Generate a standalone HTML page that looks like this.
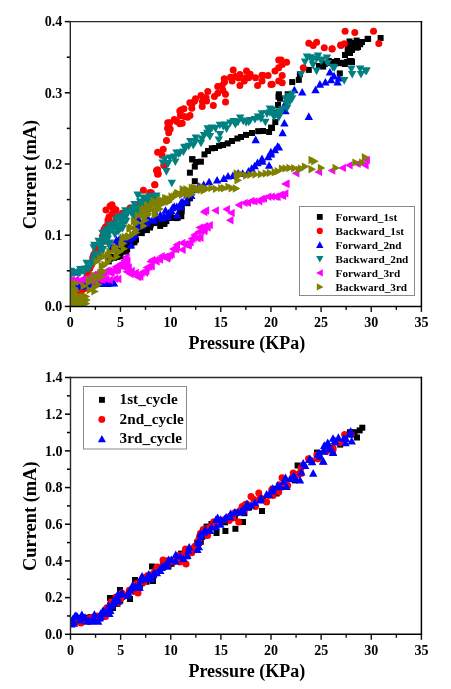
<!DOCTYPE html>
<html><head><meta charset="utf-8"><style>html,body{margin:0;padding:0;background:#fff;width:451px;height:689px;overflow:hidden}svg{display:block} text{-webkit-font-smoothing:antialiased} .t{will-change:transform}</style></head>
<body><svg width="451" height="689" viewBox="0 0 451 689">
<rect width="451" height="689" fill="#fff"/>
<filter id="nf"><feOffset dx="0" dy="0"/></filter><g filter="url(#nf)">
<clipPath id="c1"><rect x="70.30" y="21.60" width="351.10" height="284.80"/></clipPath>
<g clip-path="url(#c1)">
<rect x="101.8" y="280.3" width="6.0" height="6.0" fill="#000"/>
<rect x="105.0" y="281.0" width="6.0" height="6.0" fill="#000"/>
<rect x="105.8" y="258.4" width="6.0" height="6.0" fill="#000"/>
<rect x="107.5" y="255.5" width="6.0" height="6.0" fill="#000"/>
<rect x="109.2" y="253.8" width="6.0" height="6.0" fill="#000"/>
<rect x="111.2" y="254.8" width="6.0" height="6.0" fill="#000"/>
<rect x="114.4" y="253.9" width="6.0" height="6.0" fill="#000"/>
<rect x="114.9" y="253.1" width="6.0" height="6.0" fill="#000"/>
<rect x="117.6" y="253.3" width="6.0" height="6.0" fill="#000"/>
<rect x="118.2" y="248.0" width="6.0" height="6.0" fill="#000"/>
<rect x="118.6" y="247.3" width="6.0" height="6.0" fill="#000"/>
<rect x="123.2" y="248.7" width="6.0" height="6.0" fill="#000"/>
<rect x="124.2" y="246.2" width="6.0" height="6.0" fill="#000"/>
<rect x="122.4" y="241.6" width="6.0" height="6.0" fill="#000"/>
<rect x="127.4" y="242.5" width="6.0" height="6.0" fill="#000"/>
<rect x="128.4" y="240.4" width="6.0" height="6.0" fill="#000"/>
<rect x="131.3" y="239.3" width="6.0" height="6.0" fill="#000"/>
<rect x="131.4" y="238.0" width="6.0" height="6.0" fill="#000"/>
<rect x="133.0" y="236.7" width="6.0" height="6.0" fill="#000"/>
<rect x="131.4" y="232.3" width="6.0" height="6.0" fill="#000"/>
<rect x="133.0" y="229.0" width="6.0" height="6.0" fill="#000"/>
<rect x="137.0" y="230.0" width="6.0" height="6.0" fill="#000"/>
<rect x="138.8" y="230.1" width="6.0" height="6.0" fill="#000"/>
<rect x="140.5" y="227.0" width="6.0" height="6.0" fill="#000"/>
<rect x="143.9" y="227.1" width="6.0" height="6.0" fill="#000"/>
<rect x="143.6" y="225.4" width="6.0" height="6.0" fill="#000"/>
<rect x="147.1" y="224.5" width="6.0" height="6.0" fill="#000"/>
<rect x="147.7" y="221.7" width="6.0" height="6.0" fill="#000"/>
<rect x="149.8" y="218.7" width="6.0" height="6.0" fill="#000"/>
<rect x="151.3" y="220.1" width="6.0" height="6.0" fill="#000"/>
<rect x="153.9" y="219.0" width="6.0" height="6.0" fill="#000"/>
<rect x="157.2" y="222.9" width="6.0" height="6.0" fill="#000"/>
<rect x="159.9" y="220.9" width="6.0" height="6.0" fill="#000"/>
<rect x="161.5" y="220.8" width="6.0" height="6.0" fill="#000"/>
<rect x="163.4" y="218.1" width="6.0" height="6.0" fill="#000"/>
<rect x="163.5" y="214.7" width="6.0" height="6.0" fill="#000"/>
<rect x="166.4" y="215.0" width="6.0" height="6.0" fill="#000"/>
<rect x="167.5" y="214.0" width="6.0" height="6.0" fill="#000"/>
<rect x="170.8" y="214.8" width="6.0" height="6.0" fill="#000"/>
<rect x="173.5" y="215.1" width="6.0" height="6.0" fill="#000"/>
<rect x="174.9" y="214.5" width="6.0" height="6.0" fill="#000"/>
<rect x="178.3" y="213.2" width="6.0" height="6.0" fill="#000"/>
<rect x="177.0" y="208.8" width="6.0" height="6.0" fill="#000"/>
<rect x="178.7" y="208.2" width="6.0" height="6.0" fill="#000"/>
<rect x="178.4" y="205.5" width="6.0" height="6.0" fill="#000"/>
<rect x="178.7" y="203.0" width="6.0" height="6.0" fill="#000"/>
<rect x="184.4" y="200.2" width="6.0" height="6.0" fill="#000"/>
<rect x="186.9" y="195.3" width="6.0" height="6.0" fill="#000"/>
<rect x="189.0" y="187.0" width="6.0" height="6.0" fill="#000"/>
<rect x="191.8" y="178.2" width="6.0" height="6.0" fill="#000"/>
<rect x="186.9" y="169.7" width="6.0" height="6.0" fill="#000"/>
<rect x="191.8" y="163.6" width="6.0" height="6.0" fill="#000"/>
<rect x="189.3" y="156.3" width="6.0" height="6.0" fill="#000"/>
<rect x="189.3" y="156.3" width="6.0" height="6.0" fill="#000"/>
<rect x="197.9" y="158.7" width="6.0" height="6.0" fill="#000"/>
<rect x="201.5" y="151.4" width="6.0" height="6.0" fill="#000"/>
<rect x="208.8" y="145.3" width="6.0" height="6.0" fill="#000"/>
<rect x="216.1" y="142.9" width="6.0" height="6.0" fill="#000"/>
<rect x="224.7" y="140.4" width="6.0" height="6.0" fill="#000"/>
<rect x="234.4" y="135.5" width="6.0" height="6.0" fill="#000"/>
<rect x="243.0" y="131.9" width="6.0" height="6.0" fill="#000"/>
<rect x="255.2" y="128.2" width="6.0" height="6.0" fill="#000"/>
<rect x="266.1" y="129.0" width="6.0" height="6.0" fill="#000"/>
<rect x="272.3" y="119.1" width="6.0" height="6.0" fill="#000"/>
<rect x="273.0" y="110.0" width="6.0" height="6.0" fill="#000"/>
<rect x="275.0" y="102.0" width="6.0" height="6.0" fill="#000"/>
<rect x="275.7" y="93.6" width="6.0" height="6.0" fill="#000"/>
<rect x="193.0" y="159.0" width="6.0" height="6.0" fill="#000"/>
<rect x="205.0" y="148.0" width="6.0" height="6.0" fill="#000"/>
<rect x="212.0" y="145.0" width="6.0" height="6.0" fill="#000"/>
<rect x="220.0" y="142.0" width="6.0" height="6.0" fill="#000"/>
<rect x="229.0" y="138.0" width="6.0" height="6.0" fill="#000"/>
<rect x="238.0" y="134.0" width="6.0" height="6.0" fill="#000"/>
<rect x="249.0" y="130.0" width="6.0" height="6.0" fill="#000"/>
<rect x="260.0" y="128.0" width="6.0" height="6.0" fill="#000"/>
<rect x="269.0" y="125.0" width="6.0" height="6.0" fill="#000"/>
<rect x="275.7" y="93.6" width="6.0" height="6.0" fill="#000"/>
<rect x="275.9" y="91.3" width="6.0" height="6.0" fill="#000"/>
<rect x="277.0" y="95.7" width="6.0" height="6.0" fill="#000"/>
<rect x="284.7" y="91.3" width="6.0" height="6.0" fill="#000"/>
<rect x="289.2" y="79.1" width="6.0" height="6.0" fill="#000"/>
<rect x="295.8" y="76.9" width="6.0" height="6.0" fill="#000"/>
<rect x="296.9" y="71.3" width="6.0" height="6.0" fill="#000"/>
<rect x="305.8" y="66.9" width="6.0" height="6.0" fill="#000"/>
<rect x="320.2" y="63.6" width="6.0" height="6.0" fill="#000"/>
<rect x="325.8" y="58.0" width="6.0" height="6.0" fill="#000"/>
<rect x="333.5" y="60.3" width="6.0" height="6.0" fill="#000"/>
<rect x="340.2" y="60.3" width="6.0" height="6.0" fill="#000"/>
<rect x="346.8" y="58.0" width="6.0" height="6.0" fill="#000"/>
<rect x="330.5" y="58.9" width="6.0" height="6.0" fill="#000"/>
<rect x="337.6" y="59.8" width="6.0" height="6.0" fill="#000"/>
<rect x="343.9" y="58.9" width="6.0" height="6.0" fill="#000"/>
<rect x="348.3" y="58.0" width="6.0" height="6.0" fill="#000"/>
<rect x="336.8" y="70.4" width="6.0" height="6.0" fill="#000"/>
<rect x="344.7" y="47.4" width="6.0" height="6.0" fill="#000"/>
<rect x="346.5" y="38.5" width="6.0" height="6.0" fill="#000"/>
<rect x="348.3" y="42.9" width="6.0" height="6.0" fill="#000"/>
<rect x="353.6" y="37.6" width="6.0" height="6.0" fill="#000"/>
<rect x="353.6" y="44.7" width="6.0" height="6.0" fill="#000"/>
<rect x="357.2" y="41.2" width="6.0" height="6.0" fill="#000"/>
<rect x="365.1" y="35.9" width="6.0" height="6.0" fill="#000"/>
<rect x="377.6" y="35.0" width="6.0" height="6.0" fill="#000"/>
<rect x="364.6" y="35.9" width="6.0" height="6.0" fill="#000"/>
<rect x="268.1" y="124.6" width="6.0" height="6.0" fill="#000"/>
<rect x="345.0" y="44.0" width="6.0" height="6.0" fill="#000"/>
<rect x="349.0" y="47.0" width="6.0" height="6.0" fill="#000"/>
<rect x="355.0" y="44.0" width="6.0" height="6.0" fill="#000"/>
<rect x="351.0" y="40.0" width="6.0" height="6.0" fill="#000"/>
<rect x="359.0" y="39.0" width="6.0" height="6.0" fill="#000"/>
<rect x="342.0" y="52.0" width="6.0" height="6.0" fill="#000"/>
<rect x="347.0" y="50.0" width="6.0" height="6.0" fill="#000"/>
<rect x="322.0" y="61.0" width="6.0" height="6.0" fill="#000"/>
<rect x="328.0" y="60.0" width="6.0" height="6.0" fill="#000"/>
<rect x="334.0" y="58.0" width="6.0" height="6.0" fill="#000"/>
<rect x="342.0" y="61.0" width="6.0" height="6.0" fill="#000"/>
<rect x="349.0" y="59.0" width="6.0" height="6.0" fill="#000"/>
<rect x="316.0" y="63.0" width="6.0" height="6.0" fill="#000"/>
<circle cx="71.2" cy="299.7" r="3.5" fill="#ff0000"/>
<circle cx="74.1" cy="298.7" r="3.5" fill="#ff0000"/>
<circle cx="78.2" cy="295.3" r="3.5" fill="#ff0000"/>
<circle cx="79.5" cy="293.2" r="3.5" fill="#ff0000"/>
<circle cx="81.7" cy="290.2" r="3.5" fill="#ff0000"/>
<circle cx="83.9" cy="288.8" r="3.5" fill="#ff0000"/>
<circle cx="84.3" cy="284.6" r="3.5" fill="#ff0000"/>
<circle cx="84.8" cy="280.6" r="3.5" fill="#ff0000"/>
<circle cx="86.5" cy="277.7" r="3.5" fill="#ff0000"/>
<circle cx="88.7" cy="274.3" r="3.5" fill="#ff0000"/>
<circle cx="87.9" cy="273.0" r="3.5" fill="#ff0000"/>
<circle cx="89.8" cy="268.5" r="3.5" fill="#ff0000"/>
<circle cx="90.7" cy="265.4" r="3.5" fill="#ff0000"/>
<circle cx="91.6" cy="264.5" r="3.5" fill="#ff0000"/>
<circle cx="93.1" cy="261.0" r="3.5" fill="#ff0000"/>
<circle cx="92.8" cy="257.5" r="3.5" fill="#ff0000"/>
<circle cx="93.5" cy="255.4" r="3.5" fill="#ff0000"/>
<circle cx="95.1" cy="252.6" r="3.5" fill="#ff0000"/>
<circle cx="96.7" cy="248.1" r="3.5" fill="#ff0000"/>
<circle cx="99.6" cy="246.3" r="3.5" fill="#ff0000"/>
<circle cx="101.7" cy="242.6" r="3.5" fill="#ff0000"/>
<circle cx="102.6" cy="239.5" r="3.5" fill="#ff0000"/>
<circle cx="102.5" cy="236.0" r="3.5" fill="#ff0000"/>
<circle cx="103.7" cy="231.9" r="3.5" fill="#ff0000"/>
<circle cx="104.1" cy="229.2" r="3.5" fill="#ff0000"/>
<circle cx="105.5" cy="226.9" r="3.5" fill="#ff0000"/>
<circle cx="107.9" cy="223.2" r="3.5" fill="#ff0000"/>
<circle cx="108.9" cy="221.1" r="3.5" fill="#ff0000"/>
<circle cx="109.0" cy="217.0" r="3.5" fill="#ff0000"/>
<circle cx="106.0" cy="210.0" r="3.5" fill="#ff0000"/>
<circle cx="110.0" cy="206.0" r="3.5" fill="#ff0000"/>
<circle cx="113.0" cy="208.0" r="3.5" fill="#ff0000"/>
<circle cx="112.0" cy="214.0" r="3.5" fill="#ff0000"/>
<circle cx="108.0" cy="220.0" r="3.5" fill="#ff0000"/>
<circle cx="115.0" cy="222.0" r="3.5" fill="#ff0000"/>
<circle cx="110.0" cy="225.0" r="3.5" fill="#ff0000"/>
<circle cx="116.0" cy="218.0" r="3.5" fill="#ff0000"/>
<circle cx="115.9" cy="209.7" r="3.5" fill="#ff0000"/>
<circle cx="122.1" cy="213.2" r="3.5" fill="#ff0000"/>
<circle cx="118.0" cy="216.0" r="3.5" fill="#ff0000"/>
<circle cx="112.0" cy="204.8" r="3.5" fill="#ff0000"/>
<circle cx="141.6" cy="211.4" r="3.5" fill="#ff0000"/>
<circle cx="130.0" cy="208.0" r="3.5" fill="#ff0000"/>
<circle cx="136.0" cy="205.0" r="3.5" fill="#ff0000"/>
<circle cx="170.2" cy="128.9" r="3.5" fill="#ff0000"/>
<circle cx="167.7" cy="122.8" r="3.5" fill="#ff0000"/>
<circle cx="176.8" cy="121.6" r="3.5" fill="#ff0000"/>
<circle cx="180.4" cy="115.8" r="3.5" fill="#ff0000"/>
<circle cx="183.9" cy="108.8" r="3.5" fill="#ff0000"/>
<circle cx="191.8" cy="108.2" r="3.5" fill="#ff0000"/>
<circle cx="194.6" cy="101.0" r="3.5" fill="#ff0000"/>
<circle cx="202.4" cy="101.5" r="3.5" fill="#ff0000"/>
<circle cx="206.0" cy="97.4" r="3.5" fill="#ff0000"/>
<circle cx="207.8" cy="91.6" r="3.5" fill="#ff0000"/>
<circle cx="217.7" cy="93.2" r="3.5" fill="#ff0000"/>
<circle cx="222.9" cy="90.3" r="3.5" fill="#ff0000"/>
<circle cx="224.5" cy="82.1" r="3.5" fill="#ff0000"/>
<circle cx="230.5" cy="77.2" r="3.5" fill="#ff0000"/>
<circle cx="238.8" cy="78.0" r="3.5" fill="#ff0000"/>
<circle cx="245.7" cy="77.7" r="3.5" fill="#ff0000"/>
<circle cx="250.2" cy="74.2" r="3.5" fill="#ff0000"/>
<circle cx="255.5" cy="77.7" r="3.5" fill="#ff0000"/>
<circle cx="262.0" cy="75.3" r="3.5" fill="#ff0000"/>
<circle cx="268.1" cy="75.6" r="3.5" fill="#ff0000"/>
<circle cx="275.0" cy="70.9" r="3.5" fill="#ff0000"/>
<circle cx="143.4" cy="190.2" r="3.5" fill="#ff0000"/>
<circle cx="151.4" cy="192.8" r="3.5" fill="#ff0000"/>
<circle cx="154.9" cy="184.8" r="3.5" fill="#ff0000"/>
<circle cx="157.6" cy="169.8" r="3.5" fill="#ff0000"/>
<circle cx="157.6" cy="174.2" r="3.5" fill="#ff0000"/>
<circle cx="163.8" cy="165.3" r="3.5" fill="#ff0000"/>
<circle cx="154.7" cy="184.8" r="3.5" fill="#ff0000"/>
<circle cx="149.9" cy="192.6" r="3.5" fill="#ff0000"/>
<circle cx="156.5" cy="170.4" r="3.5" fill="#ff0000"/>
<circle cx="158.3" cy="173.7" r="3.5" fill="#ff0000"/>
<circle cx="164.3" cy="165.5" r="3.5" fill="#ff0000"/>
<circle cx="157.6" cy="152.2" r="3.5" fill="#ff0000"/>
<circle cx="162.0" cy="155.3" r="3.5" fill="#ff0000"/>
<circle cx="163.2" cy="149.3" r="3.5" fill="#ff0000"/>
<circle cx="166.5" cy="140.5" r="3.5" fill="#ff0000"/>
<circle cx="168.7" cy="132.7" r="3.5" fill="#ff0000"/>
<circle cx="167.6" cy="128.3" r="3.5" fill="#ff0000"/>
<circle cx="169.8" cy="122.7" r="3.5" fill="#ff0000"/>
<circle cx="174.3" cy="119.4" r="3.5" fill="#ff0000"/>
<circle cx="179.8" cy="123.8" r="3.5" fill="#ff0000"/>
<circle cx="179.8" cy="111.0" r="3.5" fill="#ff0000"/>
<circle cx="187.6" cy="117.2" r="3.5" fill="#ff0000"/>
<circle cx="189.8" cy="102.8" r="3.5" fill="#ff0000"/>
<circle cx="181.1" cy="109.9" r="3.5" fill="#ff0000"/>
<circle cx="184.4" cy="116.5" r="3.5" fill="#ff0000"/>
<circle cx="190.0" cy="115.4" r="3.5" fill="#ff0000"/>
<circle cx="182.2" cy="123.2" r="3.5" fill="#ff0000"/>
<circle cx="192.2" cy="103.2" r="3.5" fill="#ff0000"/>
<circle cx="195.5" cy="98.8" r="3.5" fill="#ff0000"/>
<circle cx="201.0" cy="95.5" r="3.5" fill="#ff0000"/>
<circle cx="206.6" cy="101.0" r="3.5" fill="#ff0000"/>
<circle cx="202.2" cy="106.5" r="3.5" fill="#ff0000"/>
<circle cx="213.3" cy="105.4" r="3.5" fill="#ff0000"/>
<circle cx="214.4" cy="96.6" r="3.5" fill="#ff0000"/>
<circle cx="217.7" cy="86.6" r="3.5" fill="#ff0000"/>
<circle cx="224.3" cy="78.8" r="3.5" fill="#ff0000"/>
<circle cx="222.1" cy="85.5" r="3.5" fill="#ff0000"/>
<circle cx="225.5" cy="94.3" r="3.5" fill="#ff0000"/>
<circle cx="225.5" cy="102.1" r="3.5" fill="#ff0000"/>
<circle cx="233.2" cy="70.0" r="3.5" fill="#ff0000"/>
<circle cx="232.1" cy="81.0" r="3.5" fill="#ff0000"/>
<circle cx="235.4" cy="76.6" r="3.5" fill="#ff0000"/>
<circle cx="239.9" cy="74.4" r="3.5" fill="#ff0000"/>
<circle cx="239.9" cy="85.5" r="3.5" fill="#ff0000"/>
<circle cx="246.5" cy="71.0" r="3.5" fill="#ff0000"/>
<circle cx="248.7" cy="77.7" r="3.5" fill="#ff0000"/>
<circle cx="244.3" cy="81.0" r="3.5" fill="#ff0000"/>
<circle cx="257.6" cy="85.5" r="3.5" fill="#ff0000"/>
<circle cx="263.2" cy="75.5" r="3.5" fill="#ff0000"/>
<circle cx="262.0" cy="81.0" r="3.5" fill="#ff0000"/>
<circle cx="270.9" cy="84.4" r="3.5" fill="#ff0000"/>
<circle cx="278.7" cy="60.0" r="3.5" fill="#ff0000"/>
<circle cx="278.7" cy="67.7" r="3.5" fill="#ff0000"/>
<circle cx="278.7" cy="81.0" r="3.5" fill="#ff0000"/>
<circle cx="272.2" cy="84.3" r="3.5" fill="#ff0000"/>
<circle cx="282.2" cy="82.8" r="3.5" fill="#ff0000"/>
<circle cx="282.2" cy="75.5" r="3.5" fill="#ff0000"/>
<circle cx="281.1" cy="59.9" r="3.5" fill="#ff0000"/>
<circle cx="286.6" cy="62.2" r="3.5" fill="#ff0000"/>
<circle cx="282.2" cy="64.4" r="3.5" fill="#ff0000"/>
<circle cx="303.3" cy="67.7" r="3.5" fill="#ff0000"/>
<circle cx="308.8" cy="43.3" r="3.5" fill="#ff0000"/>
<circle cx="316.6" cy="42.2" r="3.5" fill="#ff0000"/>
<circle cx="313.2" cy="45.5" r="3.5" fill="#ff0000"/>
<circle cx="324.3" cy="47.7" r="3.5" fill="#ff0000"/>
<circle cx="332.1" cy="48.8" r="3.5" fill="#ff0000"/>
<circle cx="341.0" cy="45.5" r="3.5" fill="#ff0000"/>
<circle cx="344.3" cy="43.7" r="3.5" fill="#ff0000"/>
<circle cx="340.6" cy="45.1" r="3.5" fill="#ff0000"/>
<circle cx="332.1" cy="49.0" r="3.5" fill="#ff0000"/>
<circle cx="345.1" cy="31.2" r="3.5" fill="#ff0000"/>
<circle cx="354.8" cy="32.6" r="3.5" fill="#ff0000"/>
<circle cx="373.5" cy="31.2" r="3.5" fill="#ff0000"/>
<circle cx="378.8" cy="43.6" r="3.5" fill="#ff0000"/>
<polygon points="71.1,284.8 75.3,292.4 66.9,292.4" fill="#0000ff"/>
<polygon points="72.7,283.7 76.9,291.3 68.5,291.3" fill="#0000ff"/>
<polygon points="75.5,282.0 79.7,289.6 71.3,289.6" fill="#0000ff"/>
<polygon points="79.5,281.8 83.7,289.3 75.3,289.3" fill="#0000ff"/>
<polygon points="82.0,282.2 86.2,289.7 77.8,289.7" fill="#0000ff"/>
<polygon points="84.8,280.9 89.0,288.4 80.6,288.4" fill="#0000ff"/>
<polygon points="87.4,280.6 91.6,288.1 83.2,288.1" fill="#0000ff"/>
<polygon points="90.5,279.2 94.7,286.7 86.3,286.7" fill="#0000ff"/>
<polygon points="93.1,279.1 97.3,286.6 88.9,286.6" fill="#0000ff"/>
<polygon points="95.6,279.6 99.8,287.1 91.4,287.1" fill="#0000ff"/>
<polygon points="99.0,278.9 103.2,286.5 94.8,286.5" fill="#0000ff"/>
<polygon points="102.9,279.5 107.1,287.0 98.7,287.0" fill="#0000ff"/>
<polygon points="105.9,279.0 110.1,286.5 101.7,286.5" fill="#0000ff"/>
<polygon points="108.7,278.8 112.9,286.4 104.5,286.4" fill="#0000ff"/>
<polygon points="111.6,278.7 115.8,286.3 107.4,286.3" fill="#0000ff"/>
<polygon points="114.0,278.8 118.2,286.4 109.8,286.4" fill="#0000ff"/>
<polygon points="72.0,267.8 76.2,275.3 67.8,275.3" fill="#0000ff"/>
<polygon points="77.0,267.8 81.2,275.4 72.8,275.4" fill="#0000ff"/>
<polygon points="111.3,244.3 115.5,251.9 107.1,251.9" fill="#0000ff"/>
<polygon points="112.9,242.4 117.1,250.0 108.7,250.0" fill="#0000ff"/>
<polygon points="116.6,240.3 120.8,247.9 112.4,247.9" fill="#0000ff"/>
<polygon points="116.6,235.7 120.8,243.3 112.4,243.3" fill="#0000ff"/>
<polygon points="118.7,236.1 122.9,243.7 114.5,243.7" fill="#0000ff"/>
<polygon points="124.1,236.0 128.3,243.6 119.9,243.6" fill="#0000ff"/>
<polygon points="126.2,234.5 130.4,242.0 122.0,242.0" fill="#0000ff"/>
<polygon points="129.9,234.0 134.1,241.6 125.7,241.6" fill="#0000ff"/>
<polygon points="132.2,233.2 136.4,240.8 128.0,240.8" fill="#0000ff"/>
<polygon points="135.1,230.8 139.3,238.4 130.9,238.4" fill="#0000ff"/>
<polygon points="134.8,227.5 139.0,235.0 130.6,235.0" fill="#0000ff"/>
<polygon points="135.7,225.6 139.9,233.2 131.5,233.2" fill="#0000ff"/>
<polygon points="137.7,222.6 141.9,230.1 133.5,230.1" fill="#0000ff"/>
<polygon points="139.2,221.1 143.4,228.6 135.0,228.6" fill="#0000ff"/>
<polygon points="142.2,221.5 146.4,229.0 138.0,229.0" fill="#0000ff"/>
<polygon points="146.8,218.7 151.0,226.3 142.6,226.3" fill="#0000ff"/>
<polygon points="145.4,216.5 149.6,224.1 141.2,224.1" fill="#0000ff"/>
<polygon points="147.9,213.7 152.1,221.3 143.7,221.3" fill="#0000ff"/>
<polygon points="153.0,215.0 157.2,222.6 148.8,222.6" fill="#0000ff"/>
<polygon points="154.9,211.5 159.1,219.0 150.7,219.0" fill="#0000ff"/>
<polygon points="156.9,211.7 161.1,219.3 152.7,219.3" fill="#0000ff"/>
<polygon points="160.3,210.7 164.5,218.3 156.1,218.3" fill="#0000ff"/>
<polygon points="164.0,212.2 168.2,219.8 159.8,219.8" fill="#0000ff"/>
<polygon points="165.5,206.2 169.7,213.8 161.3,213.8" fill="#0000ff"/>
<polygon points="168.5,209.0 172.7,216.5 164.3,216.5" fill="#0000ff"/>
<polygon points="171.4,206.6 175.6,214.1 167.2,214.1" fill="#0000ff"/>
<polygon points="172.4,203.8 176.6,211.3 168.2,211.3" fill="#0000ff"/>
<polygon points="174.2,202.3 178.4,209.9 170.0,209.9" fill="#0000ff"/>
<polygon points="176.8,202.4 181.0,210.0 172.6,210.0" fill="#0000ff"/>
<polygon points="180.5,202.9 184.7,210.4 176.3,210.4" fill="#0000ff"/>
<polygon points="181.2,198.1 185.4,205.7 177.0,205.7" fill="#0000ff"/>
<polygon points="182.9,198.0 187.1,205.6 178.7,205.6" fill="#0000ff"/>
<polygon points="186.3,196.7 190.5,204.3 182.1,204.3" fill="#0000ff"/>
<polygon points="120.3,233.8 124.5,241.4 116.1,241.4" fill="#0000ff"/>
<polygon points="131.0,240.9 135.2,248.5 126.8,248.5" fill="#0000ff"/>
<polygon points="138.1,214.3 142.3,221.9 133.9,221.9" fill="#0000ff"/>
<polygon points="154.0,216.1 158.2,223.7 149.8,223.7" fill="#0000ff"/>
<polygon points="146.0,214.8 150.2,222.4 141.8,222.4" fill="#0000ff"/>
<polygon points="162.0,213.8 166.2,221.4 157.8,221.4" fill="#0000ff"/>
<polygon points="168.2,212.6 172.4,220.2 164.0,220.2" fill="#0000ff"/>
<polygon points="177.1,210.8 181.3,218.4 172.9,218.4" fill="#0000ff"/>
<polygon points="180.6,201.9 184.8,209.5 176.4,209.5" fill="#0000ff"/>
<polygon points="191.3,191.3 195.5,198.9 187.1,198.9" fill="#0000ff"/>
<polygon points="187.1,190.9 191.3,198.5 182.9,198.5" fill="#0000ff"/>
<polygon points="191.1,187.9 195.3,195.4 186.9,195.4" fill="#0000ff"/>
<polygon points="194.8,185.0 199.0,192.5 190.6,192.5" fill="#0000ff"/>
<polygon points="198.8,181.9 203.0,189.5 194.6,189.5" fill="#0000ff"/>
<polygon points="203.7,180.5 207.9,188.0 199.5,188.0" fill="#0000ff"/>
<polygon points="209.1,177.7 213.3,185.2 204.9,185.2" fill="#0000ff"/>
<polygon points="217.1,176.1 221.3,183.6 212.9,183.6" fill="#0000ff"/>
<polygon points="223.8,174.3 228.0,181.9 219.6,181.9" fill="#0000ff"/>
<polygon points="228.0,172.0 232.2,179.6 223.8,179.6" fill="#0000ff"/>
<polygon points="232.9,171.4 237.1,178.9 228.7,178.9" fill="#0000ff"/>
<polygon points="238.2,169.0 242.4,176.6 234.0,176.6" fill="#0000ff"/>
<polygon points="242.7,169.2 246.9,176.7 238.5,176.7" fill="#0000ff"/>
<polygon points="248.5,167.0 252.7,174.6 244.3,174.6" fill="#0000ff"/>
<polygon points="251.7,164.3 255.9,171.8 247.5,171.8" fill="#0000ff"/>
<polygon points="254.7,161.7 258.9,169.2 250.5,169.2" fill="#0000ff"/>
<polygon points="257.5,158.6 261.7,166.2 253.3,166.2" fill="#0000ff"/>
<polygon points="262.5,157.2 266.7,164.8 258.3,164.8" fill="#0000ff"/>
<polygon points="268.2,152.7 272.4,160.3 264.0,160.3" fill="#0000ff"/>
<polygon points="271.1,149.9 275.3,157.5 266.9,157.5" fill="#0000ff"/>
<polygon points="274.9,145.7 279.1,153.2 270.7,153.2" fill="#0000ff"/>
<polygon points="278.9,142.9 283.1,150.5 274.7,150.5" fill="#0000ff"/>
<polygon points="269.1,161.2 273.3,168.8 264.9,168.8" fill="#0000ff"/>
<polygon points="255.7,135.6 259.9,143.2 251.5,143.2" fill="#0000ff"/>
<polygon points="282.6,128.7 286.8,136.3 278.4,136.3" fill="#0000ff"/>
<polygon points="270.9,147.8 275.1,155.4 266.7,155.4" fill="#0000ff"/>
<polygon points="277.6,142.3 281.8,149.9 273.4,149.9" fill="#0000ff"/>
<polygon points="262.0,154.4 266.2,162.0 257.8,162.0" fill="#0000ff"/>
<polygon points="284.4,118.9 288.6,126.5 280.2,126.5" fill="#0000ff"/>
<polygon points="308.8,112.3 313.0,119.9 304.6,119.9" fill="#0000ff"/>
<polygon points="285.5,106.7 289.7,114.3 281.3,114.3" fill="#0000ff"/>
<polygon points="285.5,99.0 289.7,106.6 281.3,106.6" fill="#0000ff"/>
<polygon points="294.4,85.7 298.6,93.3 290.2,93.3" fill="#0000ff"/>
<polygon points="302.2,87.9 306.4,95.5 298.0,95.5" fill="#0000ff"/>
<polygon points="315.5,85.7 319.7,93.3 311.3,93.3" fill="#0000ff"/>
<polygon points="319.9,80.1 324.1,87.7 315.7,87.7" fill="#0000ff"/>
<polygon points="325.4,77.9 329.6,85.5 321.2,85.5" fill="#0000ff"/>
<polygon points="331.0,75.7 335.2,83.3 326.8,83.3" fill="#0000ff"/>
<polygon points="337.6,77.9 341.8,85.5 333.4,85.5" fill="#0000ff"/>
<polygon points="329.9,67.9 334.1,75.5 325.7,75.5" fill="#0000ff"/>
<polygon points="334.0,71.8 338.2,79.4 329.8,79.4" fill="#0000ff"/>
<polygon points="339.0,73.8 343.2,81.4 334.8,81.4" fill="#0000ff"/>
<polygon points="68.4,277.5 72.6,269.9 64.2,269.9" fill="#008080"/>
<polygon points="70.8,279.5 75.0,272.0 66.6,272.0" fill="#008080"/>
<polygon points="71.0,275.3 75.2,267.8 66.8,267.8" fill="#008080"/>
<polygon points="73.0,276.6 77.2,269.0 68.8,269.0" fill="#008080"/>
<polygon points="74.5,276.5 78.7,269.0 70.3,269.0" fill="#008080"/>
<polygon points="77.6,277.2 81.8,269.6 73.4,269.6" fill="#008080"/>
<polygon points="79.7,276.9 83.9,269.4 75.5,269.4" fill="#008080"/>
<polygon points="80.3,273.7 84.5,266.1 76.1,266.1" fill="#008080"/>
<polygon points="82.1,274.9 86.3,267.3 77.9,267.3" fill="#008080"/>
<polygon points="84.3,276.0 88.5,268.4 80.1,268.4" fill="#008080"/>
<polygon points="85.5,273.5 89.7,266.0 81.3,266.0" fill="#008080"/>
<polygon points="85.2,273.0 89.4,265.4 81.0,265.4" fill="#008080"/>
<polygon points="88.1,272.7 92.3,265.2 83.9,265.2" fill="#008080"/>
<polygon points="89.3,272.4 93.5,264.8 85.1,264.8" fill="#008080"/>
<polygon points="86.6,267.2 90.8,259.7 82.4,259.7" fill="#008080"/>
<polygon points="88.4,268.2 92.6,260.7 84.2,260.7" fill="#008080"/>
<polygon points="91.3,267.7 95.5,260.2 87.1,260.2" fill="#008080"/>
<polygon points="92.9,265.8 97.1,258.2 88.7,258.2" fill="#008080"/>
<polygon points="94.8,265.9 99.0,258.4 90.6,258.4" fill="#008080"/>
<polygon points="94.2,262.9 98.4,255.3 90.0,255.3" fill="#008080"/>
<polygon points="95.3,262.3 99.5,254.7 91.1,254.7" fill="#008080"/>
<polygon points="94.7,259.7 98.9,252.1 90.5,252.1" fill="#008080"/>
<polygon points="98.4,260.6 102.6,253.0 94.2,253.0" fill="#008080"/>
<polygon points="96.5,258.5 100.7,250.9 92.3,250.9" fill="#008080"/>
<polygon points="100.9,258.2 105.1,250.7 96.7,250.7" fill="#008080"/>
<polygon points="93.7,251.9 97.9,244.3 89.5,244.3" fill="#008080"/>
<polygon points="101.4,255.8 105.6,248.3 97.2,248.3" fill="#008080"/>
<polygon points="94.3,249.4 98.5,241.8 90.1,241.8" fill="#008080"/>
<polygon points="102.9,253.5 107.1,245.9 98.7,245.9" fill="#008080"/>
<polygon points="99.3,249.5 103.5,241.9 95.1,241.9" fill="#008080"/>
<polygon points="101.0,250.5 105.2,242.9 96.8,242.9" fill="#008080"/>
<polygon points="100.7,247.7 104.9,240.2 96.5,240.2" fill="#008080"/>
<polygon points="98.5,245.3 102.7,237.7 94.3,237.7" fill="#008080"/>
<polygon points="108.8,249.3 113.0,241.8 104.6,241.8" fill="#008080"/>
<polygon points="102.8,243.2 107.0,235.6 98.6,235.6" fill="#008080"/>
<polygon points="105.6,245.2 109.8,237.6 101.4,237.6" fill="#008080"/>
<polygon points="110.0,247.2 114.2,239.6 105.8,239.6" fill="#008080"/>
<polygon points="107.8,243.0 112.0,235.4 103.6,235.4" fill="#008080"/>
<polygon points="105.7,239.7 109.9,232.1 101.5,232.1" fill="#008080"/>
<polygon points="102.5,237.3 106.7,229.7 98.3,229.7" fill="#008080"/>
<polygon points="108.1,238.3 112.3,230.8 103.9,230.8" fill="#008080"/>
<polygon points="107.7,238.0 111.9,230.4 103.5,230.4" fill="#008080"/>
<polygon points="105.8,234.7 110.0,227.1 101.6,227.1" fill="#008080"/>
<polygon points="108.6,233.4 112.8,225.8 104.4,225.8" fill="#008080"/>
<polygon points="114.9,238.5 119.1,230.9 110.7,230.9" fill="#008080"/>
<polygon points="112.8,233.7 117.0,226.2 108.6,226.2" fill="#008080"/>
<polygon points="112.3,232.0 116.5,224.4 108.1,224.4" fill="#008080"/>
<polygon points="109.8,229.6 114.0,222.0 105.6,222.0" fill="#008080"/>
<polygon points="114.4,229.5 118.6,222.0 110.2,222.0" fill="#008080"/>
<polygon points="114.2,228.4 118.4,220.8 110.0,220.8" fill="#008080"/>
<polygon points="116.9,229.8 121.1,222.3 112.7,222.3" fill="#008080"/>
<polygon points="120.8,232.7 125.0,225.2 116.6,225.2" fill="#008080"/>
<polygon points="122.6,232.6 126.8,225.0 118.4,225.0" fill="#008080"/>
<polygon points="116.3,223.6 120.5,216.1 112.1,216.1" fill="#008080"/>
<polygon points="123.0,228.4 127.2,220.8 118.8,220.8" fill="#008080"/>
<polygon points="118.4,221.2 122.6,213.7 114.2,213.7" fill="#008080"/>
<polygon points="121.7,224.3 125.9,216.7 117.5,216.7" fill="#008080"/>
<polygon points="126.1,225.6 130.3,218.1 121.9,218.1" fill="#008080"/>
<polygon points="124.8,224.8 129.0,217.2 120.6,217.2" fill="#008080"/>
<polygon points="123.5,220.8 127.7,213.2 119.3,213.2" fill="#008080"/>
<polygon points="124.6,219.0 128.8,211.4 120.4,211.4" fill="#008080"/>
<polygon points="125.6,219.3 129.8,211.8 121.4,211.8" fill="#008080"/>
<polygon points="126.7,219.2 130.9,211.6 122.5,211.6" fill="#008080"/>
<polygon points="125.4,214.8 129.6,207.3 121.2,207.3" fill="#008080"/>
<polygon points="127.3,216.4 131.5,208.9 123.1,208.9" fill="#008080"/>
<polygon points="134.0,221.5 138.2,214.0 129.8,214.0" fill="#008080"/>
<polygon points="131.0,216.2 135.2,208.7 126.8,208.7" fill="#008080"/>
<polygon points="130.5,214.6 134.7,207.0 126.3,207.0" fill="#008080"/>
<polygon points="136.2,220.3 140.4,212.7 132.0,212.7" fill="#008080"/>
<polygon points="136.1,215.8 140.3,208.2 131.9,208.2" fill="#008080"/>
<polygon points="133.2,212.0 137.4,204.4 129.0,204.4" fill="#008080"/>
<polygon points="136.8,213.8 141.0,206.2 132.6,206.2" fill="#008080"/>
<polygon points="139.1,215.5 143.3,207.9 134.9,207.9" fill="#008080"/>
<polygon points="140.5,214.1 144.7,206.5 136.3,206.5" fill="#008080"/>
<polygon points="138.8,212.0 143.0,204.5 134.6,204.5" fill="#008080"/>
<polygon points="143.9,215.4 148.1,207.9 139.7,207.9" fill="#008080"/>
<polygon points="144.0,213.6 148.2,206.1 139.8,206.1" fill="#008080"/>
<polygon points="140.1,205.9 144.3,198.4 135.9,198.4" fill="#008080"/>
<polygon points="146.1,213.5 150.3,206.0 141.9,206.0" fill="#008080"/>
<polygon points="145.6,210.9 149.8,203.3 141.4,203.3" fill="#008080"/>
<polygon points="143.2,202.0 147.4,194.5 139.0,194.5" fill="#008080"/>
<polygon points="149.1,210.8 153.3,203.3 144.9,203.3" fill="#008080"/>
<polygon points="144.9,202.6 149.1,195.0 140.7,195.0" fill="#008080"/>
<polygon points="149.0,206.8 153.2,199.3 144.8,199.3" fill="#008080"/>
<polygon points="150.0,205.0 154.2,197.5 145.8,197.5" fill="#008080"/>
<polygon points="149.4,200.5 153.6,192.9 145.2,192.9" fill="#008080"/>
<polygon points="150.7,202.6 154.9,195.1 146.5,195.1" fill="#008080"/>
<polygon points="155.0,204.4 159.2,196.8 150.8,196.8" fill="#008080"/>
<polygon points="151.2,200.9 155.4,193.3 147.0,193.3" fill="#008080"/>
<polygon points="156.4,202.0 160.6,194.4 152.2,194.4" fill="#008080"/>
<polygon points="156.3,200.0 160.5,192.5 152.1,192.5" fill="#008080"/>
<polygon points="106.4,234.7 110.6,227.1 102.2,227.1" fill="#008080"/>
<polygon points="117.2,234.7 121.4,227.1 113.0,227.1" fill="#008080"/>
<polygon points="112.6,230.1 116.8,222.5 108.4,222.5" fill="#008080"/>
<polygon points="125.0,222.2 129.2,214.6 120.8,214.6" fill="#008080"/>
<polygon points="118.5,235.2 122.7,227.6 114.3,227.6" fill="#008080"/>
<polygon points="125.6,221.0 129.8,213.4 121.4,213.4" fill="#008080"/>
<polygon points="132.7,217.4 136.9,209.8 128.5,209.8" fill="#008080"/>
<polygon points="134.5,208.5 138.7,200.9 130.3,200.9" fill="#008080"/>
<polygon points="141.6,208.5 145.8,200.9 137.4,200.9" fill="#008080"/>
<polygon points="150.5,210.3 154.7,202.7 146.3,202.7" fill="#008080"/>
<polygon points="138.1,199.7 142.3,192.1 133.9,192.1" fill="#008080"/>
<polygon points="146.0,203.2 150.2,195.6 141.8,195.6" fill="#008080"/>
<polygon points="137.7,199.0 141.9,191.4 133.5,191.4" fill="#008080"/>
<polygon points="147.6,203.4 151.8,195.8 143.4,195.8" fill="#008080"/>
<polygon points="110.0,236.2 114.2,228.6 105.8,228.6" fill="#008080"/>
<polygon points="121.0,229.2 125.2,221.6 116.8,221.6" fill="#008080"/>
<polygon points="128.0,216.2 132.2,208.6 123.8,208.6" fill="#008080"/>
<polygon points="122.0,226.2 126.2,218.6 117.8,218.6" fill="#008080"/>
<polygon points="171.8,187.3 176.0,179.7 167.6,179.7" fill="#008080"/>
<polygon points="166.4,175.7 170.6,168.1 162.2,168.1" fill="#008080"/>
<polygon points="168.2,167.7 172.4,160.1 164.0,160.1" fill="#008080"/>
<polygon points="175.3,166.0 179.5,158.4 171.1,158.4" fill="#008080"/>
<polygon points="167.6,167.9 171.8,160.3 163.4,160.3" fill="#008080"/>
<polygon points="174.3,161.2 178.5,153.6 170.1,153.6" fill="#008080"/>
<polygon points="178.7,158.0 182.9,150.4 174.5,150.4" fill="#008080"/>
<polygon points="185.3,152.4 189.5,144.8 181.1,144.8" fill="#008080"/>
<polygon points="184.4,151.8 188.6,144.2 180.2,144.2" fill="#008080"/>
<polygon points="193.3,149.5 197.5,141.9 189.1,141.9" fill="#008080"/>
<polygon points="201.0,147.3 205.2,139.7 196.8,139.7" fill="#008080"/>
<polygon points="207.7,132.9 211.9,125.3 203.5,125.3" fill="#008080"/>
<polygon points="209.9,140.7 214.1,133.1 205.7,133.1" fill="#008080"/>
<polygon points="219.9,138.5 224.1,130.9 215.7,130.9" fill="#008080"/>
<polygon points="218.8,144.0 223.0,136.4 214.6,136.4" fill="#008080"/>
<polygon points="226.6,132.9 230.8,125.3 222.4,125.3" fill="#008080"/>
<polygon points="235.4,128.5 239.6,120.9 231.2,120.9" fill="#008080"/>
<polygon points="243.2,125.2 247.4,117.6 239.0,117.6" fill="#008080"/>
<polygon points="248.7,126.3 252.9,118.7 244.5,118.7" fill="#008080"/>
<polygon points="260.9,122.9 265.1,115.3 256.7,115.3" fill="#008080"/>
<polygon points="265.4,126.3 269.6,118.7 261.2,118.7" fill="#008080"/>
<polygon points="269.8,113.0 274.0,105.4 265.6,105.4" fill="#008080"/>
<polygon points="273.1,119.6 277.3,112.0 268.9,112.0" fill="#008080"/>
<polygon points="278.7,121.8 282.9,114.2 274.5,114.2" fill="#008080"/>
<polygon points="272.2,114.0 276.4,106.4 268.0,106.4" fill="#008080"/>
<polygon points="280.0,118.5 284.2,110.9 275.8,110.9" fill="#008080"/>
<polygon points="274.4,120.7 278.6,113.1 270.2,113.1" fill="#008080"/>
<polygon points="285.5,102.9 289.7,95.3 281.3,95.3" fill="#008080"/>
<polygon points="288.8,100.7 293.0,93.1 284.6,93.1" fill="#008080"/>
<polygon points="301.0,78.5 305.2,70.9 296.8,70.9" fill="#008080"/>
<polygon points="311.0,61.9 315.2,54.3 306.8,54.3" fill="#008080"/>
<polygon points="316.6,63.0 320.8,55.4 312.4,55.4" fill="#008080"/>
<polygon points="321.0,65.2 325.2,57.6 316.8,57.6" fill="#008080"/>
<polygon points="327.6,67.5 331.8,59.9 323.4,59.9" fill="#008080"/>
<polygon points="334.3,71.9 338.5,64.3 330.1,64.3" fill="#008080"/>
<polygon points="316.6,75.2 320.8,67.6 312.4,67.6" fill="#008080"/>
<polygon points="332.7,71.4 336.9,63.8 328.5,63.8" fill="#008080"/>
<polygon points="351.3,73.2 355.5,65.6 347.1,65.6" fill="#008080"/>
<polygon points="352.2,78.5 356.4,70.9 348.0,70.9" fill="#008080"/>
<polygon points="360.2,73.2 364.4,65.6 356.0,65.6" fill="#008080"/>
<polygon points="365.5,75.0 369.7,67.4 361.3,67.4" fill="#008080"/>
<polygon points="361.0,78.5 365.2,70.9 356.8,70.9" fill="#008080"/>
<polygon points="344.2,84.7 348.4,77.1 340.0,77.1" fill="#008080"/>
<polygon points="366.5,75.2 370.7,67.6 362.3,67.6" fill="#008080"/>
<polygon points="307.0,61.2 311.2,53.6 302.8,53.6" fill="#008080"/>
<polygon points="312.0,65.2 316.2,57.6 307.8,57.6" fill="#008080"/>
<polygon points="318.0,60.2 322.2,52.6 313.8,52.6" fill="#008080"/>
<polygon points="322.0,64.2 326.2,56.6 317.8,56.6" fill="#008080"/>
<polygon points="327.0,62.2 331.2,54.6 322.8,54.6" fill="#008080"/>
<polygon points="313.0,69.2 317.2,61.6 308.8,61.6" fill="#008080"/>
<polygon points="305.0,66.2 309.2,58.6 300.8,58.6" fill="#008080"/>
<polygon points="162.7,167.0 166.9,159.5 158.5,159.5" fill="#008080"/>
<polygon points="164.7,163.6 168.9,156.0 160.5,156.0" fill="#008080"/>
<polygon points="169.8,161.9 174.0,154.4 165.6,154.4" fill="#008080"/>
<polygon points="174.3,162.0 178.5,154.4 170.1,154.4" fill="#008080"/>
<polygon points="176.5,156.9 180.7,149.4 172.3,149.4" fill="#008080"/>
<polygon points="180.0,157.2 184.2,149.6 175.8,149.6" fill="#008080"/>
<polygon points="183.4,156.1 187.6,148.6 179.2,148.6" fill="#008080"/>
<polygon points="185.2,151.4 189.4,143.8 181.0,143.8" fill="#008080"/>
<polygon points="188.8,150.3 193.0,142.7 184.6,142.7" fill="#008080"/>
<polygon points="190.3,145.5 194.5,137.9 186.1,137.9" fill="#008080"/>
<polygon points="195.2,146.2 199.4,138.6 191.0,138.6" fill="#008080"/>
<polygon points="195.8,142.0 200.0,134.5 191.6,134.5" fill="#008080"/>
<polygon points="201.9,143.2 206.1,135.6 197.7,135.6" fill="#008080"/>
<polygon points="204.1,139.5 208.3,132.0 199.9,132.0" fill="#008080"/>
<polygon points="207.2,137.3 211.4,129.8 203.0,129.8" fill="#008080"/>
<polygon points="209.4,135.6 213.6,128.0 205.2,128.0" fill="#008080"/>
<polygon points="211.8,132.2 216.0,124.6 207.6,124.6" fill="#008080"/>
<polygon points="215.5,132.7 219.7,125.1 211.3,125.1" fill="#008080"/>
<polygon points="219.8,129.3 224.0,121.8 215.6,121.8" fill="#008080"/>
<polygon points="223.3,130.5 227.5,123.0 219.1,123.0" fill="#008080"/>
<polygon points="225.2,129.1 229.4,121.5 221.0,121.5" fill="#008080"/>
<polygon points="230.3,127.1 234.5,119.5 226.1,119.5" fill="#008080"/>
<polygon points="233.6,125.6 237.8,118.0 229.4,118.0" fill="#008080"/>
<polygon points="237.9,126.3 242.1,118.7 233.7,118.7" fill="#008080"/>
<polygon points="240.2,122.1 244.4,114.5 236.0,114.5" fill="#008080"/>
<polygon points="246.1,126.7 250.3,119.1 241.9,119.1" fill="#008080"/>
<polygon points="250.3,124.5 254.5,116.9 246.1,116.9" fill="#008080"/>
<polygon points="254.9,123.5 259.1,116.0 250.7,116.0" fill="#008080"/>
<polygon points="257.9,121.2 262.1,113.6 253.7,113.6" fill="#008080"/>
<polygon points="261.8,117.9 266.0,110.3 257.6,110.3" fill="#008080"/>
<polygon points="267.0,117.9 271.2,110.3 262.8,110.3" fill="#008080"/>
<polygon points="269.9,116.8 274.1,109.3 265.7,109.3" fill="#008080"/>
<polygon points="274.8,117.9 279.0,110.4 270.6,110.4" fill="#008080"/>
<polygon points="278.7,115.7 282.9,108.2 274.5,108.2" fill="#008080"/>
<polygon points="282.3,113.7 286.5,106.2 278.1,106.2" fill="#008080"/>
<polygon points="287.0,112.6 291.2,105.0 282.8,105.0" fill="#008080"/>
<polygon points="286.3,107.7 290.5,100.2 282.1,100.2" fill="#008080"/>
<polygon points="289.8,106.0 294.0,98.4 285.6,98.4" fill="#008080"/>
<polygon points="292.2,102.8 296.4,95.2 288.0,95.2" fill="#008080"/>
<polygon points="292.1,98.3 296.3,90.7 287.9,90.7" fill="#008080"/>
<polygon points="66.4,282.7 73.9,278.5 73.9,286.9" fill="#ff00ff"/>
<polygon points="67.3,279.8 74.8,275.6 74.8,284.0" fill="#ff00ff"/>
<polygon points="70.1,280.6 77.6,276.4 77.6,284.8" fill="#ff00ff"/>
<polygon points="71.6,280.0 79.2,275.8 79.2,284.2" fill="#ff00ff"/>
<polygon points="74.1,281.2 81.7,277.0 81.7,285.4" fill="#ff00ff"/>
<polygon points="75.4,281.0 82.9,276.8 82.9,285.2" fill="#ff00ff"/>
<polygon points="77.8,279.4 85.3,275.2 85.3,283.6" fill="#ff00ff"/>
<polygon points="79.6,279.8 87.1,275.6 87.1,284.0" fill="#ff00ff"/>
<polygon points="81.2,278.9 88.8,274.7 88.8,283.1" fill="#ff00ff"/>
<polygon points="83.6,278.6 91.2,274.4 91.2,282.8" fill="#ff00ff"/>
<polygon points="86.8,280.8 94.4,276.6 94.4,285.0" fill="#ff00ff"/>
<polygon points="88.7,280.4 96.3,276.2 96.3,284.6" fill="#ff00ff"/>
<polygon points="88.9,274.8 96.5,270.6 96.5,279.0" fill="#ff00ff"/>
<polygon points="93.3,277.6 100.9,273.4 100.9,281.8" fill="#ff00ff"/>
<polygon points="92.6,273.6 100.2,269.4 100.2,277.8" fill="#ff00ff"/>
<polygon points="96.6,279.1 104.2,274.9 104.2,283.3" fill="#ff00ff"/>
<polygon points="98.4,273.6 105.9,269.4 105.9,277.8" fill="#ff00ff"/>
<polygon points="100.0,273.4 107.6,269.2 107.6,277.6" fill="#ff00ff"/>
<polygon points="101.5,271.3 109.0,267.1 109.0,275.5" fill="#ff00ff"/>
<polygon points="103.1,270.7 110.7,266.5 110.7,274.9" fill="#ff00ff"/>
<polygon points="104.7,271.2 112.3,267.0 112.3,275.4" fill="#ff00ff"/>
<polygon points="107.2,272.5 114.8,268.3 114.8,276.7" fill="#ff00ff"/>
<polygon points="109.3,270.2 116.9,266.0 116.9,274.4" fill="#ff00ff"/>
<polygon points="110.1,270.8 117.7,266.6 117.7,275.0" fill="#ff00ff"/>
<polygon points="112.2,270.4 119.8,266.2 119.8,274.6" fill="#ff00ff"/>
<polygon points="113.3,269.4 120.9,265.2 120.9,273.6" fill="#ff00ff"/>
<polygon points="111.7,266.8 119.3,262.6 119.3,271.0" fill="#ff00ff"/>
<polygon points="114.8,265.8 122.4,261.6 122.4,270.0" fill="#ff00ff"/>
<polygon points="119.1,266.9 126.6,262.7 126.6,271.1" fill="#ff00ff"/>
<polygon points="116.8,263.7 124.4,259.5 124.4,267.9" fill="#ff00ff"/>
<polygon points="121.4,263.3 129.0,259.1 129.0,267.5" fill="#ff00ff"/>
<polygon points="120.5,260.4 128.1,256.2 128.1,264.6" fill="#ff00ff"/>
<polygon points="123.0,261.2 130.5,257.0 130.5,265.4" fill="#ff00ff"/>
<polygon points="122.0,257.1 129.6,252.9 129.6,261.3" fill="#ff00ff"/>
<polygon points="87.1,280.0 94.7,275.8 94.7,284.2" fill="#ff00ff"/>
<polygon points="91.2,280.9 98.8,276.7 98.8,285.1" fill="#ff00ff"/>
<polygon points="95.3,279.5 102.8,275.3 102.8,283.7" fill="#ff00ff"/>
<polygon points="98.0,279.7 105.6,275.5 105.6,283.9" fill="#ff00ff"/>
<polygon points="101.8,279.3 109.4,275.1 109.4,283.5" fill="#ff00ff"/>
<polygon points="105.4,280.0 112.9,275.8 112.9,284.2" fill="#ff00ff"/>
<polygon points="110.7,278.7 118.2,274.5 118.2,282.9" fill="#ff00ff"/>
<polygon points="113.8,279.0 121.4,274.8 121.4,283.2" fill="#ff00ff"/>
<polygon points="105.8,272.6 113.3,268.4 113.3,276.8" fill="#ff00ff"/>
<polygon points="110.7,269.4 118.3,265.2 118.3,273.6" fill="#ff00ff"/>
<polygon points="113.1,268.9 120.6,264.7 120.6,273.1" fill="#ff00ff"/>
<polygon points="117.4,266.0 125.0,261.8 125.0,270.2" fill="#ff00ff"/>
<polygon points="118.2,264.9 125.8,260.7 125.8,269.1" fill="#ff00ff"/>
<polygon points="121.8,262.0 129.4,257.8 129.4,266.2" fill="#ff00ff"/>
<polygon points="123.9,267.8 131.5,263.6 131.5,272.0" fill="#ff00ff"/>
<polygon points="130.1,274.0 137.7,269.8 137.7,278.2" fill="#ff00ff"/>
<polygon points="124.1,267.8 131.6,263.6 131.6,272.0" fill="#ff00ff"/>
<polygon points="122.5,271.7 130.1,267.5 130.1,275.9" fill="#ff00ff"/>
<polygon points="127.3,271.0 134.8,266.8 134.8,275.2" fill="#ff00ff"/>
<polygon points="126.0,274.1 133.6,269.9 133.6,278.3" fill="#ff00ff"/>
<polygon points="129.8,274.2 137.3,270.0 137.3,278.4" fill="#ff00ff"/>
<polygon points="131.3,273.0 138.9,268.8 138.9,277.2" fill="#ff00ff"/>
<polygon points="133.6,277.0 141.2,272.8 141.2,281.2" fill="#ff00ff"/>
<polygon points="135.8,276.5 143.4,272.3 143.4,280.7" fill="#ff00ff"/>
<polygon points="137.2,272.7 144.7,268.5 144.7,276.9" fill="#ff00ff"/>
<polygon points="140.4,272.5 148.0,268.3 148.0,276.7" fill="#ff00ff"/>
<polygon points="141.8,271.0 149.4,266.8 149.4,275.2" fill="#ff00ff"/>
<polygon points="142.6,267.5 150.2,263.3 150.2,271.7" fill="#ff00ff"/>
<polygon points="144.9,266.7 152.5,262.5 152.5,270.9" fill="#ff00ff"/>
<polygon points="147.3,266.2 154.8,262.0 154.8,270.4" fill="#ff00ff"/>
<polygon points="146.3,261.5 153.9,257.3 153.9,265.7" fill="#ff00ff"/>
<polygon points="147.7,260.0 155.3,255.8 155.3,264.2" fill="#ff00ff"/>
<polygon points="150.6,260.3 158.2,256.1 158.2,264.5" fill="#ff00ff"/>
<polygon points="152.1,261.5 159.7,257.3 159.7,265.7" fill="#ff00ff"/>
<polygon points="155.1,259.6 162.7,255.4 162.7,263.8" fill="#ff00ff"/>
<polygon points="155.6,258.9 163.1,254.7 163.1,263.1" fill="#ff00ff"/>
<polygon points="157.4,256.1 164.9,251.9 164.9,260.3" fill="#ff00ff"/>
<polygon points="160.8,256.6 168.4,252.4 168.4,260.8" fill="#ff00ff"/>
<polygon points="162.8,258.5 170.3,254.3 170.3,262.7" fill="#ff00ff"/>
<polygon points="163.8,256.8 171.4,252.6 171.4,261.0" fill="#ff00ff"/>
<polygon points="165.5,255.0 173.1,250.8 173.1,259.2" fill="#ff00ff"/>
<polygon points="167.1,254.1 174.7,249.9 174.7,258.3" fill="#ff00ff"/>
<polygon points="168.9,249.1 176.5,244.9 176.5,253.3" fill="#ff00ff"/>
<polygon points="171.6,249.4 179.2,245.2 179.2,253.6" fill="#ff00ff"/>
<polygon points="172.0,247.3 179.5,243.1 179.5,251.5" fill="#ff00ff"/>
<polygon points="172.5,244.7 180.0,240.5 180.0,248.9" fill="#ff00ff"/>
<polygon points="178.1,249.7 185.7,245.5 185.7,253.9" fill="#ff00ff"/>
<polygon points="177.8,243.0 185.4,238.8 185.4,247.2" fill="#ff00ff"/>
<polygon points="180.5,244.3 188.1,240.1 188.1,248.5" fill="#ff00ff"/>
<polygon points="183.3,245.3 190.9,241.1 190.9,249.5" fill="#ff00ff"/>
<polygon points="184.3,245.1 191.9,240.9 191.9,249.3" fill="#ff00ff"/>
<polygon points="186.0,242.2 193.6,238.0 193.6,246.4" fill="#ff00ff"/>
<polygon points="187.6,238.8 195.2,234.6 195.2,243.0" fill="#ff00ff"/>
<polygon points="189.2,237.9 196.7,233.7 196.7,242.1" fill="#ff00ff"/>
<polygon points="190.2,235.0 197.7,230.8 197.7,239.2" fill="#ff00ff"/>
<polygon points="193.1,238.2 200.6,234.0 200.6,242.4" fill="#ff00ff"/>
<polygon points="196.0,237.9 203.5,233.7 203.5,242.1" fill="#ff00ff"/>
<polygon points="194.2,232.1 201.7,227.9 201.7,236.3" fill="#ff00ff"/>
<polygon points="196.5,231.0 204.1,226.8 204.1,235.2" fill="#ff00ff"/>
<polygon points="200.0,231.0 207.5,226.8 207.5,235.2" fill="#ff00ff"/>
<polygon points="200.2,228.2 207.7,224.0 207.7,232.4" fill="#ff00ff"/>
<polygon points="200.5,226.1 208.0,221.9 208.0,230.3" fill="#ff00ff"/>
<polygon points="203.1,227.6 210.7,223.4 210.7,231.8" fill="#ff00ff"/>
<polygon points="195.4,227.6 203.0,223.4 203.0,231.8" fill="#ff00ff"/>
<polygon points="205.2,225.1 212.8,220.9 212.8,229.3" fill="#ff00ff"/>
<polygon points="199.8,212.0 207.4,207.8 207.4,216.2" fill="#ff00ff"/>
<polygon points="201.5,210.5 209.1,206.3 209.1,214.7" fill="#ff00ff"/>
<polygon points="211.3,210.5 218.9,206.3 218.9,214.7" fill="#ff00ff"/>
<polygon points="222.3,209.3 229.9,205.1 229.9,213.5" fill="#ff00ff"/>
<polygon points="227.1,212.9 234.7,208.7 234.7,217.1" fill="#ff00ff"/>
<polygon points="225.9,220.2 233.5,216.0 233.5,224.4" fill="#ff00ff"/>
<polygon points="234.7,205.0 242.2,200.8 242.2,209.2" fill="#ff00ff"/>
<polygon points="240.0,202.9 247.6,198.7 247.6,207.1" fill="#ff00ff"/>
<polygon points="243.5,202.9 251.0,198.7 251.0,207.1" fill="#ff00ff"/>
<polygon points="247.0,200.9 254.5,196.7 254.5,205.1" fill="#ff00ff"/>
<polygon points="249.9,201.4 257.5,197.2 257.5,205.6" fill="#ff00ff"/>
<polygon points="254.7,201.3 262.3,197.1 262.3,205.5" fill="#ff00ff"/>
<polygon points="257.0,199.0 264.6,194.8 264.6,203.2" fill="#ff00ff"/>
<polygon points="259.5,198.6 267.0,194.4 267.0,202.8" fill="#ff00ff"/>
<polygon points="263.8,196.8 271.4,192.6 271.4,201.0" fill="#ff00ff"/>
<polygon points="267.3,196.6 274.8,192.4 274.8,200.8" fill="#ff00ff"/>
<polygon points="271.1,196.8 278.7,192.6 278.7,201.0" fill="#ff00ff"/>
<polygon points="273.0,196.7 280.6,192.5 280.6,200.9" fill="#ff00ff"/>
<polygon points="276.2,194.7 283.8,190.5 283.8,198.9" fill="#ff00ff"/>
<polygon points="280.8,193.4 288.4,189.2 288.4,197.6" fill="#ff00ff"/>
<polygon points="282.0,183.7 289.6,179.5 289.6,187.9" fill="#ff00ff"/>
<polygon points="281.1,183.9 288.7,179.7 288.7,188.1" fill="#ff00ff"/>
<polygon points="278.5,195.9 286.1,191.7 286.1,200.1" fill="#ff00ff"/>
<polygon points="291.8,173.3 299.4,169.1 299.4,177.5" fill="#ff00ff"/>
<polygon points="314.4,171.9 322.0,167.7 322.0,176.1" fill="#ff00ff"/>
<polygon points="327.7,170.6 335.3,166.4 335.3,174.8" fill="#ff00ff"/>
<polygon points="338.3,167.9 345.9,163.7 345.9,172.1" fill="#ff00ff"/>
<polygon points="345.0,165.3 352.6,161.1 352.6,169.5" fill="#ff00ff"/>
<polygon points="353.0,163.9 360.6,159.7 360.6,168.1" fill="#ff00ff"/>
<polygon points="362.3,160.0 369.9,155.8 369.9,164.2" fill="#ff00ff"/>
<polygon points="361.0,165.3 368.6,161.1 368.6,169.5" fill="#ff00ff"/>
<polygon points="76.1,287.7 68.5,283.5 68.5,291.9" fill="#808000"/>
<polygon points="78.9,288.3 71.3,284.1 71.3,292.5" fill="#808000"/>
<polygon points="75.6,291.3 68.1,287.1 68.1,295.5" fill="#808000"/>
<polygon points="79.9,290.8 72.4,286.6 72.4,295.0" fill="#808000"/>
<polygon points="75.8,294.5 68.3,290.3 68.3,298.7" fill="#808000"/>
<polygon points="79.4,294.6 71.8,290.4 71.8,298.8" fill="#808000"/>
<polygon points="76.6,297.2 69.0,293.0 69.0,301.4" fill="#808000"/>
<polygon points="79.2,297.4 71.6,293.2 71.6,301.6" fill="#808000"/>
<polygon points="75.7,301.3 68.1,297.1 68.1,305.5" fill="#808000"/>
<polygon points="79.7,301.1 72.2,296.9 72.2,305.3" fill="#808000"/>
<polygon points="75.6,304.4 68.0,300.2 68.0,308.6" fill="#808000"/>
<polygon points="79.7,304.0 72.1,299.8 72.1,308.2" fill="#808000"/>
<polygon points="84.5,296.9 76.9,292.7 76.9,301.1" fill="#808000"/>
<polygon points="87.1,296.5 79.5,292.3 79.5,300.7" fill="#808000"/>
<polygon points="90.3,296.4 82.7,292.2 82.7,300.6" fill="#808000"/>
<polygon points="84.0,300.5 76.4,296.3 76.4,304.7" fill="#808000"/>
<polygon points="87.6,300.6 80.1,296.4 80.1,304.8" fill="#808000"/>
<polygon points="90.9,299.9 83.3,295.7 83.3,304.1" fill="#808000"/>
<polygon points="84.3,303.3 76.7,299.1 76.7,307.5" fill="#808000"/>
<polygon points="87.7,303.4 80.2,299.2 80.2,307.6" fill="#808000"/>
<polygon points="90.3,303.6 82.8,299.4 82.8,307.8" fill="#808000"/>
<polygon points="94.2,290.0 86.6,285.8 86.6,294.2" fill="#808000"/>
<polygon points="99.2,287.0 91.6,282.8 91.6,291.2" fill="#808000"/>
<polygon points="88.2,300.0 80.6,295.8 80.6,304.2" fill="#808000"/>
<polygon points="98.9,291.4 91.3,287.2 91.3,295.6" fill="#808000"/>
<polygon points="93.4,282.2 85.9,278.0 85.9,286.4" fill="#808000"/>
<polygon points="102.7,284.6 95.2,280.4 95.2,288.8" fill="#808000"/>
<polygon points="100.9,278.9 93.3,274.7 93.3,283.1" fill="#808000"/>
<polygon points="101.2,277.0 93.7,272.8 93.7,281.2" fill="#808000"/>
<polygon points="105.3,276.9 97.8,272.7 97.8,281.1" fill="#808000"/>
<polygon points="105.0,272.8 97.4,268.6 97.4,277.0" fill="#808000"/>
<polygon points="108.0,271.6 100.5,267.4 100.5,275.8" fill="#808000"/>
<polygon points="106.2,266.5 98.7,262.3 98.7,270.7" fill="#808000"/>
<polygon points="107.0,266.2 99.4,262.0 99.4,270.4" fill="#808000"/>
<polygon points="104.7,258.4 97.1,254.2 97.1,262.6" fill="#808000"/>
<polygon points="112.2,262.1 104.7,257.9 104.7,266.3" fill="#808000"/>
<polygon points="108.1,255.9 100.5,251.7 100.5,260.1" fill="#808000"/>
<polygon points="115.6,258.5 108.0,254.3 108.0,262.7" fill="#808000"/>
<polygon points="113.9,251.8 106.4,247.6 106.4,256.0" fill="#808000"/>
<polygon points="121.0,256.8 113.5,252.6 113.5,261.0" fill="#808000"/>
<polygon points="118.8,250.0 111.2,245.8 111.2,254.2" fill="#808000"/>
<polygon points="124.1,251.7 116.5,247.5 116.5,255.9" fill="#808000"/>
<polygon points="119.8,246.8 112.2,242.6 112.2,251.0" fill="#808000"/>
<polygon points="128.1,248.8 120.5,244.6 120.5,253.0" fill="#808000"/>
<polygon points="127.5,243.6 119.9,239.4 119.9,247.8" fill="#808000"/>
<polygon points="126.9,238.8 119.3,234.6 119.3,243.0" fill="#808000"/>
<polygon points="129.1,237.5 121.5,233.3 121.5,241.7" fill="#808000"/>
<polygon points="129.9,237.2 122.3,233.0 122.3,241.4" fill="#808000"/>
<polygon points="132.4,236.6 124.9,232.4 124.9,240.8" fill="#808000"/>
<polygon points="136.6,234.4 129.1,230.2 129.1,238.6" fill="#808000"/>
<polygon points="134.0,228.8 126.4,224.6 126.4,233.0" fill="#808000"/>
<polygon points="140.3,232.5 132.7,228.3 132.7,236.7" fill="#808000"/>
<polygon points="140.2,229.7 132.7,225.5 132.7,233.9" fill="#808000"/>
<polygon points="141.0,223.0 133.5,218.8 133.5,227.2" fill="#808000"/>
<polygon points="140.4,222.3 132.8,218.1 132.8,226.5" fill="#808000"/>
<polygon points="147.8,225.9 140.3,221.7 140.3,230.1" fill="#808000"/>
<polygon points="148.9,220.1 141.4,215.9 141.4,224.3" fill="#808000"/>
<polygon points="149.4,220.2 141.9,216.0 141.9,224.4" fill="#808000"/>
<polygon points="151.6,215.3 144.0,211.1 144.0,219.5" fill="#808000"/>
<polygon points="152.3,213.8 144.8,209.6 144.8,218.0" fill="#808000"/>
<polygon points="153.3,210.1 145.7,205.9 145.7,214.3" fill="#808000"/>
<polygon points="159.4,214.9 151.9,210.7 151.9,219.1" fill="#808000"/>
<polygon points="159.5,211.0 151.9,206.8 151.9,215.2" fill="#808000"/>
<polygon points="161.8,206.8 154.2,202.6 154.2,211.0" fill="#808000"/>
<polygon points="164.0,209.0 156.4,204.8 156.4,213.2" fill="#808000"/>
<polygon points="165.1,203.8 157.5,199.6 157.5,208.0" fill="#808000"/>
<polygon points="167.7,202.2 160.1,198.0 160.1,206.4" fill="#808000"/>
<polygon points="169.1,202.7 161.5,198.5 161.5,206.9" fill="#808000"/>
<polygon points="173.1,201.9 165.5,197.7 165.5,206.1" fill="#808000"/>
<polygon points="76.2,284.0 68.6,279.8 68.6,288.2" fill="#808000"/>
<polygon points="80.2,283.0 72.6,278.8 72.6,287.2" fill="#808000"/>
<polygon points="93.5,280.2 85.9,276.0 85.9,284.4" fill="#808000"/>
<polygon points="98.1,275.5 90.5,271.3 90.5,279.7" fill="#808000"/>
<polygon points="88.2,286.0 80.6,281.8 80.6,290.2" fill="#808000"/>
<polygon points="101.2,261.6 93.6,257.4 93.6,265.8" fill="#808000"/>
<polygon points="109.0,264.7 101.4,260.5 101.4,268.9" fill="#808000"/>
<polygon points="112.1,255.3 104.5,251.1 104.5,259.5" fill="#808000"/>
<polygon points="121.4,250.7 113.8,246.5 113.8,254.9" fill="#808000"/>
<polygon points="126.1,244.5 118.5,240.3 118.5,248.7" fill="#808000"/>
<polygon points="133.8,236.7 126.2,232.5 126.2,240.9" fill="#808000"/>
<polygon points="135.4,227.4 127.8,223.2 127.8,231.6" fill="#808000"/>
<polygon points="138.5,221.2 130.9,217.0 130.9,225.4" fill="#808000"/>
<polygon points="142.4,215.6 134.9,211.4 134.9,219.8" fill="#808000"/>
<polygon points="147.3,215.1 139.7,210.9 139.7,219.3" fill="#808000"/>
<polygon points="147.8,213.3 140.2,209.1 140.2,217.5" fill="#808000"/>
<polygon points="146.9,210.5 139.4,206.3 139.4,214.7" fill="#808000"/>
<polygon points="148.5,208.7 141.0,204.5 141.0,212.9" fill="#808000"/>
<polygon points="154.3,210.4 146.7,206.2 146.7,214.6" fill="#808000"/>
<polygon points="151.5,205.6 143.9,201.4 143.9,209.8" fill="#808000"/>
<polygon points="154.9,207.0 147.3,202.8 147.3,211.2" fill="#808000"/>
<polygon points="156.8,204.2 149.2,200.0 149.2,208.4" fill="#808000"/>
<polygon points="158.0,200.9 150.5,196.7 150.5,205.1" fill="#808000"/>
<polygon points="161.2,203.6 153.7,199.4 153.7,207.8" fill="#808000"/>
<polygon points="163.4,203.6 155.8,199.4 155.8,207.8" fill="#808000"/>
<polygon points="163.8,201.8 156.2,197.6 156.2,206.0" fill="#808000"/>
<polygon points="164.1,199.2 156.5,195.0 156.5,203.4" fill="#808000"/>
<polygon points="169.4,201.3 161.8,197.1 161.8,205.5" fill="#808000"/>
<polygon points="169.6,198.2 162.1,194.0 162.1,202.4" fill="#808000"/>
<polygon points="171.4,198.4 163.8,194.2 163.8,202.6" fill="#808000"/>
<polygon points="174.7,199.5 167.1,195.3 167.1,203.7" fill="#808000"/>
<polygon points="176.0,196.4 168.5,192.2 168.5,200.6" fill="#808000"/>
<polygon points="179.0,196.4 171.4,192.2 171.4,200.6" fill="#808000"/>
<polygon points="180.4,195.2 172.8,191.0 172.8,199.4" fill="#808000"/>
<polygon points="181.4,193.4 173.9,189.2 173.9,197.6" fill="#808000"/>
<polygon points="182.7,193.2 175.1,189.0 175.1,197.4" fill="#808000"/>
<polygon points="186.5,194.7 179.0,190.5 179.0,198.9" fill="#808000"/>
<polygon points="187.1,189.2 179.6,185.0 179.6,193.4" fill="#808000"/>
<polygon points="189.8,192.6 182.2,188.4 182.2,196.8" fill="#808000"/>
<polygon points="191.9,194.9 184.3,190.7 184.3,199.1" fill="#808000"/>
<polygon points="194.2,192.8 186.7,188.6 186.7,197.0" fill="#808000"/>
<polygon points="195.7,194.3 188.1,190.1 188.1,198.5" fill="#808000"/>
<polygon points="198.4,187.7 190.9,183.5 190.9,191.9" fill="#808000"/>
<polygon points="199.3,189.8 191.7,185.6 191.7,194.0" fill="#808000"/>
<polygon points="202.8,189.5 195.2,185.3 195.2,193.7" fill="#808000"/>
<polygon points="205.2,190.1 197.6,185.9 197.6,194.3" fill="#808000"/>
<polygon points="207.2,187.1 199.6,182.9 199.6,191.3" fill="#808000"/>
<polygon points="208.2,190.6 200.6,186.4 200.6,194.8" fill="#808000"/>
<polygon points="191.0,189.3 183.4,185.1 183.4,193.5" fill="#808000"/>
<polygon points="196.3,187.8 188.7,183.6 188.7,192.0" fill="#808000"/>
<polygon points="201.0,188.3 193.5,184.1 193.5,192.5" fill="#808000"/>
<polygon points="205.5,188.4 198.0,184.2 198.0,192.6" fill="#808000"/>
<polygon points="211.1,188.8 203.5,184.6 203.5,193.0" fill="#808000"/>
<polygon points="215.8,188.1 208.3,183.9 208.3,192.3" fill="#808000"/>
<polygon points="220.5,188.9 212.9,184.7 212.9,193.1" fill="#808000"/>
<polygon points="225.7,188.1 218.1,183.9 218.1,192.3" fill="#808000"/>
<polygon points="228.6,188.2 221.0,184.0 221.0,192.4" fill="#808000"/>
<polygon points="232.9,186.8 225.4,182.6 225.4,191.0" fill="#808000"/>
<polygon points="236.2,188.3 228.6,184.1 228.6,192.5" fill="#808000"/>
<polygon points="240.4,188.5 232.8,184.3 232.8,192.7" fill="#808000"/>
<polygon points="242.1,180.2 234.5,176.0 234.5,184.4" fill="#808000"/>
<polygon points="241.6,176.4 234.0,172.2 234.0,180.6" fill="#808000"/>
<polygon points="241.2,173.4 233.6,169.2 233.6,177.6" fill="#808000"/>
<polygon points="245.7,174.1 238.1,169.9 238.1,178.3" fill="#808000"/>
<polygon points="250.7,175.6 243.1,171.4 243.1,179.8" fill="#808000"/>
<polygon points="255.0,174.8 247.4,170.6 247.4,179.0" fill="#808000"/>
<polygon points="260.0,174.5 252.4,170.3 252.4,178.7" fill="#808000"/>
<polygon points="265.3,174.3 257.8,170.1 257.8,178.5" fill="#808000"/>
<polygon points="270.3,173.5 262.7,169.3 262.7,177.7" fill="#808000"/>
<polygon points="274.4,172.9 266.8,168.7 266.8,177.1" fill="#808000"/>
<polygon points="279.3,172.2 271.7,168.0 271.7,176.4" fill="#808000"/>
<polygon points="282.3,171.2 274.7,167.0 274.7,175.4" fill="#808000"/>
<polygon points="286.4,168.6 278.9,164.4 278.9,172.8" fill="#808000"/>
<polygon points="290.1,168.4 282.6,164.2 282.6,172.6" fill="#808000"/>
<polygon points="294.0,168.0 286.4,163.8 286.4,172.2" fill="#808000"/>
<polygon points="298.7,168.3 291.1,164.1 291.1,172.5" fill="#808000"/>
<polygon points="303.5,169.9 295.9,165.7 295.9,174.1" fill="#808000"/>
<polygon points="305.4,168.5 297.9,164.3 297.9,172.7" fill="#808000"/>
<polygon points="309.5,166.6 301.9,162.4 301.9,170.8" fill="#808000"/>
<polygon points="316.1,160.0 308.5,155.8 308.5,164.2" fill="#808000"/>
<polygon points="318.8,161.3 311.2,157.1 311.2,165.5" fill="#808000"/>
<polygon points="316.1,169.3 308.5,165.1 308.5,173.5" fill="#808000"/>
<polygon points="325.4,167.9 317.8,163.7 317.8,172.1" fill="#808000"/>
<polygon points="340.1,167.9 332.5,163.7 332.5,172.1" fill="#808000"/>
<polygon points="360.0,162.6 352.4,158.4 352.4,166.8" fill="#808000"/>
<polygon points="369.4,157.3 361.8,153.1 361.8,161.5" fill="#808000"/>
<polygon points="366.7,162.6 359.1,158.4 359.1,166.8" fill="#808000"/>
</g>
<line x1="70.30" y1="306.40" x2="70.30" y2="311.90" stroke="#111" stroke-width="1.4"/>
<text x="70.30" y="326.70" text-anchor="middle" font-size="14" font-family="Liberation Serif, serif" font-weight="bold">0</text>
<line x1="95.38" y1="306.40" x2="95.38" y2="309.90" stroke="#111" stroke-width="1.4"/>
<line x1="120.46" y1="306.40" x2="120.46" y2="311.90" stroke="#111" stroke-width="1.4"/>
<text x="120.46" y="326.70" text-anchor="middle" font-size="14" font-family="Liberation Serif, serif" font-weight="bold">5</text>
<line x1="145.54" y1="306.40" x2="145.54" y2="309.90" stroke="#111" stroke-width="1.4"/>
<line x1="170.61" y1="306.40" x2="170.61" y2="311.90" stroke="#111" stroke-width="1.4"/>
<text x="170.61" y="326.70" text-anchor="middle" font-size="14" font-family="Liberation Serif, serif" font-weight="bold">10</text>
<line x1="195.69" y1="306.40" x2="195.69" y2="309.90" stroke="#111" stroke-width="1.4"/>
<line x1="220.77" y1="306.40" x2="220.77" y2="311.90" stroke="#111" stroke-width="1.4"/>
<text x="220.77" y="326.70" text-anchor="middle" font-size="14" font-family="Liberation Serif, serif" font-weight="bold">15</text>
<line x1="245.85" y1="306.40" x2="245.85" y2="309.90" stroke="#111" stroke-width="1.4"/>
<line x1="270.93" y1="306.40" x2="270.93" y2="311.90" stroke="#111" stroke-width="1.4"/>
<text x="270.93" y="326.70" text-anchor="middle" font-size="14" font-family="Liberation Serif, serif" font-weight="bold">20</text>
<line x1="296.01" y1="306.40" x2="296.01" y2="309.90" stroke="#111" stroke-width="1.4"/>
<line x1="321.09" y1="306.40" x2="321.09" y2="311.90" stroke="#111" stroke-width="1.4"/>
<text x="321.09" y="326.70" text-anchor="middle" font-size="14" font-family="Liberation Serif, serif" font-weight="bold">25</text>
<line x1="346.16" y1="306.40" x2="346.16" y2="309.90" stroke="#111" stroke-width="1.4"/>
<line x1="371.24" y1="306.40" x2="371.24" y2="311.90" stroke="#111" stroke-width="1.4"/>
<text x="371.24" y="326.70" text-anchor="middle" font-size="14" font-family="Liberation Serif, serif" font-weight="bold">30</text>
<line x1="396.32" y1="306.40" x2="396.32" y2="309.90" stroke="#111" stroke-width="1.4"/>
<line x1="421.40" y1="306.40" x2="421.40" y2="311.90" stroke="#111" stroke-width="1.4"/>
<text x="421.40" y="326.70" text-anchor="middle" font-size="14" font-family="Liberation Serif, serif" font-weight="bold">35</text>
<line x1="64.80" y1="306.40" x2="70.30" y2="306.40" stroke="#000" stroke-width="1.5"/>
<text x="62.30" y="311.20" text-anchor="end" font-size="14" font-family="Liberation Serif, serif" font-weight="bold">0.0</text>
<line x1="66.80" y1="270.80" x2="70.30" y2="270.80" stroke="#000" stroke-width="1.5"/>
<line x1="64.80" y1="235.20" x2="70.30" y2="235.20" stroke="#000" stroke-width="1.5"/>
<text x="62.30" y="240.00" text-anchor="end" font-size="14" font-family="Liberation Serif, serif" font-weight="bold">0.1</text>
<line x1="66.80" y1="199.60" x2="70.30" y2="199.60" stroke="#000" stroke-width="1.5"/>
<line x1="64.80" y1="164.00" x2="70.30" y2="164.00" stroke="#000" stroke-width="1.5"/>
<text x="62.30" y="168.80" text-anchor="end" font-size="14" font-family="Liberation Serif, serif" font-weight="bold">0.2</text>
<line x1="66.80" y1="128.40" x2="70.30" y2="128.40" stroke="#000" stroke-width="1.5"/>
<line x1="64.80" y1="92.80" x2="70.30" y2="92.80" stroke="#000" stroke-width="1.5"/>
<text x="62.30" y="97.60" text-anchor="end" font-size="14" font-family="Liberation Serif, serif" font-weight="bold">0.3</text>
<line x1="66.80" y1="57.20" x2="70.30" y2="57.20" stroke="#000" stroke-width="1.5"/>
<line x1="64.80" y1="21.60" x2="70.30" y2="21.60" stroke="#000" stroke-width="1.5"/>
<text x="62.30" y="26.40" text-anchor="end" font-size="14" font-family="Liberation Serif, serif" font-weight="bold">0.4</text>
<line x1="70.30" y1="20.90" x2="70.30" y2="307.10" stroke="#2a2a2a" stroke-width="1.4"/>
<line x1="69.60" y1="21.60" x2="422.10" y2="21.60" stroke="#2a2a2a" stroke-width="1.4"/>
<line x1="421.40" y1="20.90" x2="421.40" y2="307.10" stroke="#000" stroke-width="1.5"/>
<line x1="69.60" y1="306.40" x2="422.10" y2="306.40" stroke="#000" stroke-width="1.5"/>
<text x="246.80" y="349.00" text-anchor="middle" font-size="18" font-family="Liberation Serif, serif" font-weight="bold">Pressure (KPa)</text>
<text transform="translate(35.80,174.60) rotate(-90)" text-anchor="middle" font-size="18.4" font-family="Liberation Serif, serif" font-weight="bold">Current (mA)</text>
<rect x="299.5" y="206.5" width="115" height="89" fill="#fff" stroke="#8a8a8a" stroke-width="1"/>
<rect x="316.9" y="214.0" width="5.8" height="5.8" fill="#000"/>
<text x="335.6" y="220.8" font-size="11.2" font-family="Liberation Serif, serif" font-weight="bold">Forward_1st</text>
<circle cx="319.8" cy="230.9" r="3.1" fill="#ff0000"/>
<text x="335.6" y="234.8" font-size="11.2" font-family="Liberation Serif, serif" font-weight="bold">Backward_1st</text>
<polygon points="319.8,241.2 323.5,247.9 316.1,247.9" fill="#0000ff"/>
<text x="335.6" y="248.8" font-size="11.2" font-family="Liberation Serif, serif" font-weight="bold">Forward_2nd</text>
<polygon points="319.8,262.6 323.5,255.9 316.1,255.9" fill="#008080"/>
<text x="335.6" y="262.8" font-size="11.2" font-family="Liberation Serif, serif" font-weight="bold">Backward_2nd</text>
<polygon points="316.1,272.9 322.8,269.2 322.8,276.6" fill="#ff00ff"/>
<text x="335.6" y="276.8" font-size="11.2" font-family="Liberation Serif, serif" font-weight="bold">Forward_3rd</text>
<polygon points="323.5,286.9 316.8,283.2 316.8,290.6" fill="#808000"/>
<text x="335.6" y="290.8" font-size="11.2" font-family="Liberation Serif, serif" font-weight="bold">Backward_3rd</text>
<clipPath id="c2"><rect x="70.50" y="377.50" width="350.90" height="256.80"/></clipPath>
<g clip-path="url(#c2)">
<rect x="69.6" y="619.1" width="6.0" height="6.0" fill="#000"/>
<rect x="72.2" y="618.1" width="6.0" height="6.0" fill="#000"/>
<rect x="75.4" y="615.0" width="6.0" height="6.0" fill="#000"/>
<rect x="76.8" y="614.8" width="6.0" height="6.0" fill="#000"/>
<rect x="81.2" y="614.8" width="6.0" height="6.0" fill="#000"/>
<rect x="84.4" y="614.9" width="6.0" height="6.0" fill="#000"/>
<rect x="87.4" y="614.2" width="6.0" height="6.0" fill="#000"/>
<rect x="90.4" y="617.5" width="6.0" height="6.0" fill="#000"/>
<rect x="94.5" y="615.3" width="6.0" height="6.0" fill="#000"/>
<rect x="97.4" y="615.1" width="6.0" height="6.0" fill="#000"/>
<rect x="101.3" y="612.7" width="6.0" height="6.0" fill="#000"/>
<rect x="101.8" y="607.9" width="6.0" height="6.0" fill="#000"/>
<rect x="104.9" y="605.7" width="6.0" height="6.0" fill="#000"/>
<rect x="107.2" y="602.3" width="6.0" height="6.0" fill="#000"/>
<rect x="111.8" y="600.7" width="6.0" height="6.0" fill="#000"/>
<rect x="114.5" y="600.8" width="6.0" height="6.0" fill="#000"/>
<rect x="117.3" y="597.6" width="6.0" height="6.0" fill="#000"/>
<rect x="119.3" y="593.9" width="6.0" height="6.0" fill="#000"/>
<rect x="121.9" y="592.5" width="6.0" height="6.0" fill="#000"/>
<rect x="124.5" y="592.1" width="6.0" height="6.0" fill="#000"/>
<rect x="127.3" y="588.1" width="6.0" height="6.0" fill="#000"/>
<rect x="130.6" y="585.8" width="6.0" height="6.0" fill="#000"/>
<rect x="133.7" y="585.4" width="6.0" height="6.0" fill="#000"/>
<rect x="136.7" y="584.1" width="6.0" height="6.0" fill="#000"/>
<rect x="138.8" y="580.3" width="6.0" height="6.0" fill="#000"/>
<rect x="140.2" y="578.7" width="6.0" height="6.0" fill="#000"/>
<rect x="143.6" y="578.7" width="6.0" height="6.0" fill="#000"/>
<rect x="145.1" y="574.0" width="6.0" height="6.0" fill="#000"/>
<rect x="148.8" y="573.1" width="6.0" height="6.0" fill="#000"/>
<rect x="151.1" y="571.3" width="6.0" height="6.0" fill="#000"/>
<rect x="152.8" y="567.8" width="6.0" height="6.0" fill="#000"/>
<rect x="156.0" y="567.6" width="6.0" height="6.0" fill="#000"/>
<rect x="159.8" y="564.6" width="6.0" height="6.0" fill="#000"/>
<rect x="160.1" y="560.8" width="6.0" height="6.0" fill="#000"/>
<rect x="165.5" y="563.0" width="6.0" height="6.0" fill="#000"/>
<rect x="168.6" y="560.8" width="6.0" height="6.0" fill="#000"/>
<rect x="170.3" y="558.7" width="6.0" height="6.0" fill="#000"/>
<rect x="173.6" y="556.2" width="6.0" height="6.0" fill="#000"/>
<rect x="176.6" y="556.1" width="6.0" height="6.0" fill="#000"/>
<rect x="178.1" y="550.6" width="6.0" height="6.0" fill="#000"/>
<rect x="184.4" y="553.3" width="6.0" height="6.0" fill="#000"/>
<rect x="186.1" y="549.8" width="6.0" height="6.0" fill="#000"/>
<rect x="188.5" y="547.7" width="6.0" height="6.0" fill="#000"/>
<rect x="191.1" y="545.5" width="6.0" height="6.0" fill="#000"/>
<rect x="194.8" y="542.4" width="6.0" height="6.0" fill="#000"/>
<rect x="194.2" y="539.5" width="6.0" height="6.0" fill="#000"/>
<rect x="197.8" y="538.9" width="6.0" height="6.0" fill="#000"/>
<rect x="196.6" y="534.1" width="6.0" height="6.0" fill="#000"/>
<rect x="200.6" y="532.8" width="6.0" height="6.0" fill="#000"/>
<rect x="200.6" y="527.9" width="6.0" height="6.0" fill="#000"/>
<rect x="203.2" y="526.9" width="6.0" height="6.0" fill="#000"/>
<rect x="203.6" y="523.6" width="6.0" height="6.0" fill="#000"/>
<rect x="208.5" y="521.0" width="6.0" height="6.0" fill="#000"/>
<rect x="211.5" y="522.2" width="6.0" height="6.0" fill="#000"/>
<rect x="213.6" y="521.3" width="6.0" height="6.0" fill="#000"/>
<rect x="216.2" y="517.8" width="6.0" height="6.0" fill="#000"/>
<rect x="222.1" y="519.3" width="6.0" height="6.0" fill="#000"/>
<rect x="224.1" y="515.4" width="6.0" height="6.0" fill="#000"/>
<rect x="228.3" y="514.6" width="6.0" height="6.0" fill="#000"/>
<rect x="231.8" y="514.9" width="6.0" height="6.0" fill="#000"/>
<rect x="232.2" y="510.8" width="6.0" height="6.0" fill="#000"/>
<rect x="234.1" y="509.6" width="6.0" height="6.0" fill="#000"/>
<rect x="238.0" y="507.5" width="6.0" height="6.0" fill="#000"/>
<rect x="239.2" y="505.2" width="6.0" height="6.0" fill="#000"/>
<rect x="243.5" y="503.9" width="6.0" height="6.0" fill="#000"/>
<rect x="246.1" y="504.5" width="6.0" height="6.0" fill="#000"/>
<rect x="260.0" y="497.1" width="6.0" height="6.0" fill="#000"/>
<rect x="273.6" y="490.5" width="6.0" height="6.0" fill="#000"/>
<rect x="282.6" y="479.2" width="6.0" height="6.0" fill="#000"/>
<rect x="292.0" y="477.4" width="6.0" height="6.0" fill="#000"/>
<rect x="297.4" y="470.2" width="6.0" height="6.0" fill="#000"/>
<rect x="308.9" y="458.8" width="6.0" height="6.0" fill="#000"/>
<rect x="316.4" y="452.3" width="6.0" height="6.0" fill="#000"/>
<rect x="326.7" y="446.2" width="6.0" height="6.0" fill="#000"/>
<rect x="332.9" y="438.2" width="6.0" height="6.0" fill="#000"/>
<rect x="342.2" y="432.9" width="6.0" height="6.0" fill="#000"/>
<rect x="351.3" y="431.3" width="6.0" height="6.0" fill="#000"/>
<rect x="107.0" y="595.0" width="6.0" height="6.0" fill="#000"/>
<rect x="110.0" y="605.0" width="6.0" height="6.0" fill="#000"/>
<rect x="117.0" y="587.0" width="6.0" height="6.0" fill="#000"/>
<rect x="150.0" y="578.0" width="6.0" height="6.0" fill="#000"/>
<rect x="127.0" y="596.0" width="6.0" height="6.0" fill="#000"/>
<rect x="132.0" y="577.0" width="6.0" height="6.0" fill="#000"/>
<rect x="222.4" y="528.0" width="6.0" height="6.0" fill="#000"/>
<rect x="232.4" y="525.8" width="6.0" height="6.0" fill="#000"/>
<rect x="240.0" y="519.0" width="6.0" height="6.0" fill="#000"/>
<rect x="220.0" y="519.0" width="6.0" height="6.0" fill="#000"/>
<rect x="213.5" y="530.0" width="6.0" height="6.0" fill="#000"/>
<rect x="149.0" y="563.5" width="6.0" height="6.0" fill="#000"/>
<rect x="259.0" y="508.0" width="6.0" height="6.0" fill="#000"/>
<rect x="294.6" y="462.5" width="6.0" height="6.0" fill="#000"/>
<rect x="270.0" y="485.8" width="6.0" height="6.0" fill="#000"/>
<rect x="281.0" y="483.6" width="6.0" height="6.0" fill="#000"/>
<rect x="315.7" y="450.3" width="6.0" height="6.0" fill="#000"/>
<rect x="241.4" y="510.2" width="6.0" height="6.0" fill="#000"/>
<rect x="359.3" y="424.7" width="6.0" height="6.0" fill="#000"/>
<rect x="356.7" y="427.4" width="6.0" height="6.0" fill="#000"/>
<rect x="351.3" y="429.2" width="6.0" height="6.0" fill="#000"/>
<rect x="346.9" y="429.2" width="6.0" height="6.0" fill="#000"/>
<rect x="354.0" y="434.5" width="6.0" height="6.0" fill="#000"/>
<rect x="337.2" y="441.6" width="6.0" height="6.0" fill="#000"/>
<rect x="314.0" y="449.6" width="6.0" height="6.0" fill="#000"/>
<circle cx="72.1" cy="622.5" r="3.5" fill="#ff0000"/>
<circle cx="73.9" cy="621.0" r="3.5" fill="#ff0000"/>
<circle cx="77.8" cy="621.8" r="3.5" fill="#ff0000"/>
<circle cx="79.4" cy="618.7" r="3.5" fill="#ff0000"/>
<circle cx="82.9" cy="620.7" r="3.5" fill="#ff0000"/>
<circle cx="86.0" cy="620.6" r="3.5" fill="#ff0000"/>
<circle cx="89.3" cy="618.4" r="3.5" fill="#ff0000"/>
<circle cx="92.6" cy="617.3" r="3.5" fill="#ff0000"/>
<circle cx="95.1" cy="617.4" r="3.5" fill="#ff0000"/>
<circle cx="99.4" cy="617.5" r="3.5" fill="#ff0000"/>
<circle cx="105.5" cy="616.4" r="3.5" fill="#ff0000"/>
<circle cx="105.9" cy="611.1" r="3.5" fill="#ff0000"/>
<circle cx="106.8" cy="607.7" r="3.5" fill="#ff0000"/>
<circle cx="110.6" cy="605.5" r="3.5" fill="#ff0000"/>
<circle cx="112.8" cy="603.2" r="3.5" fill="#ff0000"/>
<circle cx="117.2" cy="602.8" r="3.5" fill="#ff0000"/>
<circle cx="119.5" cy="599.5" r="3.5" fill="#ff0000"/>
<circle cx="121.1" cy="598.0" r="3.5" fill="#ff0000"/>
<circle cx="121.4" cy="594.8" r="3.5" fill="#ff0000"/>
<circle cx="127.2" cy="594.8" r="3.5" fill="#ff0000"/>
<circle cx="129.3" cy="590.3" r="3.5" fill="#ff0000"/>
<circle cx="133.9" cy="591.6" r="3.5" fill="#ff0000"/>
<circle cx="135.9" cy="588.1" r="3.5" fill="#ff0000"/>
<circle cx="136.8" cy="583.5" r="3.5" fill="#ff0000"/>
<circle cx="139.6" cy="582.5" r="3.5" fill="#ff0000"/>
<circle cx="143.9" cy="582.0" r="3.5" fill="#ff0000"/>
<circle cx="144.5" cy="577.6" r="3.5" fill="#ff0000"/>
<circle cx="147.7" cy="575.5" r="3.5" fill="#ff0000"/>
<circle cx="150.8" cy="576.4" r="3.5" fill="#ff0000"/>
<circle cx="153.3" cy="573.5" r="3.5" fill="#ff0000"/>
<circle cx="155.8" cy="570.6" r="3.5" fill="#ff0000"/>
<circle cx="156.9" cy="567.1" r="3.5" fill="#ff0000"/>
<circle cx="161.8" cy="566.5" r="3.5" fill="#ff0000"/>
<circle cx="163.9" cy="566.7" r="3.5" fill="#ff0000"/>
<circle cx="167.5" cy="565.1" r="3.5" fill="#ff0000"/>
<circle cx="167.9" cy="560.6" r="3.5" fill="#ff0000"/>
<circle cx="173.5" cy="561.7" r="3.5" fill="#ff0000"/>
<circle cx="176.2" cy="558.4" r="3.5" fill="#ff0000"/>
<circle cx="178.0" cy="555.8" r="3.5" fill="#ff0000"/>
<circle cx="181.4" cy="555.2" r="3.5" fill="#ff0000"/>
<circle cx="184.8" cy="552.0" r="3.5" fill="#ff0000"/>
<circle cx="188.2" cy="552.2" r="3.5" fill="#ff0000"/>
<circle cx="191.8" cy="552.7" r="3.5" fill="#ff0000"/>
<circle cx="196.5" cy="548.3" r="3.5" fill="#ff0000"/>
<circle cx="194.8" cy="546.2" r="3.5" fill="#ff0000"/>
<circle cx="198.9" cy="543.2" r="3.5" fill="#ff0000"/>
<circle cx="198.8" cy="539.4" r="3.5" fill="#ff0000"/>
<circle cx="200.1" cy="536.7" r="3.5" fill="#ff0000"/>
<circle cx="200.5" cy="533.3" r="3.5" fill="#ff0000"/>
<circle cx="203.2" cy="529.5" r="3.5" fill="#ff0000"/>
<circle cx="205.0" cy="528.7" r="3.5" fill="#ff0000"/>
<circle cx="209.0" cy="528.3" r="3.5" fill="#ff0000"/>
<circle cx="210.7" cy="526.7" r="3.5" fill="#ff0000"/>
<circle cx="213.7" cy="521.8" r="3.5" fill="#ff0000"/>
<circle cx="217.1" cy="523.4" r="3.5" fill="#ff0000"/>
<circle cx="219.5" cy="520.7" r="3.5" fill="#ff0000"/>
<circle cx="223.0" cy="520.0" r="3.5" fill="#ff0000"/>
<circle cx="229.2" cy="520.4" r="3.5" fill="#ff0000"/>
<circle cx="230.4" cy="516.1" r="3.5" fill="#ff0000"/>
<circle cx="232.9" cy="518.1" r="3.5" fill="#ff0000"/>
<circle cx="235.1" cy="512.6" r="3.5" fill="#ff0000"/>
<circle cx="236.3" cy="512.7" r="3.5" fill="#ff0000"/>
<circle cx="240.2" cy="511.3" r="3.5" fill="#ff0000"/>
<circle cx="243.9" cy="510.9" r="3.5" fill="#ff0000"/>
<circle cx="244.2" cy="506.6" r="3.5" fill="#ff0000"/>
<circle cx="247.3" cy="504.6" r="3.5" fill="#ff0000"/>
<circle cx="253.9" cy="499.6" r="3.5" fill="#ff0000"/>
<circle cx="260.3" cy="497.8" r="3.5" fill="#ff0000"/>
<circle cx="268.7" cy="495.5" r="3.5" fill="#ff0000"/>
<circle cx="271.7" cy="489.8" r="3.5" fill="#ff0000"/>
<circle cx="279.2" cy="484.8" r="3.5" fill="#ff0000"/>
<circle cx="285.0" cy="483.5" r="3.5" fill="#ff0000"/>
<circle cx="293.0" cy="477.0" r="3.5" fill="#ff0000"/>
<circle cx="301.0" cy="473.6" r="3.5" fill="#ff0000"/>
<circle cx="303.0" cy="465.4" r="3.5" fill="#ff0000"/>
<circle cx="308.5" cy="458.7" r="3.5" fill="#ff0000"/>
<circle cx="316.8" cy="454.9" r="3.5" fill="#ff0000"/>
<circle cx="327.3" cy="445.5" r="3.5" fill="#ff0000"/>
<circle cx="335.5" cy="441.2" r="3.5" fill="#ff0000"/>
<circle cx="344.6" cy="434.4" r="3.5" fill="#ff0000"/>
<circle cx="351.2" cy="434.4" r="3.5" fill="#ff0000"/>
<circle cx="81.0" cy="623.0" r="3.5" fill="#ff0000"/>
<circle cx="97.0" cy="616.0" r="3.5" fill="#ff0000"/>
<circle cx="107.0" cy="609.0" r="3.5" fill="#ff0000"/>
<circle cx="111.0" cy="602.0" r="3.5" fill="#ff0000"/>
<circle cx="116.0" cy="597.0" r="3.5" fill="#ff0000"/>
<circle cx="122.0" cy="593.0" r="3.5" fill="#ff0000"/>
<circle cx="138.0" cy="593.0" r="3.5" fill="#ff0000"/>
<circle cx="164.0" cy="563.0" r="3.5" fill="#ff0000"/>
<circle cx="163.0" cy="560.0" r="3.5" fill="#ff0000"/>
<circle cx="183.0" cy="560.0" r="3.5" fill="#ff0000"/>
<circle cx="180.0" cy="562.0" r="3.5" fill="#ff0000"/>
<circle cx="186.0" cy="564.0" r="3.5" fill="#ff0000"/>
<circle cx="185.5" cy="549.0" r="3.5" fill="#ff0000"/>
<circle cx="207.6" cy="535.5" r="3.5" fill="#ff0000"/>
<circle cx="238.7" cy="522.0" r="3.5" fill="#ff0000"/>
<circle cx="245.3" cy="504.4" r="3.5" fill="#ff0000"/>
<circle cx="227.6" cy="517.7" r="3.5" fill="#ff0000"/>
<circle cx="251.0" cy="496.5" r="3.5" fill="#ff0000"/>
<circle cx="258.8" cy="493.0" r="3.5" fill="#ff0000"/>
<circle cx="266.6" cy="502.0" r="3.5" fill="#ff0000"/>
<circle cx="246.7" cy="504.0" r="3.5" fill="#ff0000"/>
<circle cx="255.5" cy="506.5" r="3.5" fill="#ff0000"/>
<circle cx="273.0" cy="495.4" r="3.5" fill="#ff0000"/>
<circle cx="282.0" cy="477.7" r="3.5" fill="#ff0000"/>
<circle cx="293.2" cy="473.0" r="3.5" fill="#ff0000"/>
<circle cx="297.6" cy="474.4" r="3.5" fill="#ff0000"/>
<circle cx="287.7" cy="485.5" r="3.5" fill="#ff0000"/>
<circle cx="301.0" cy="467.7" r="3.5" fill="#ff0000"/>
<circle cx="317.6" cy="458.8" r="3.5" fill="#ff0000"/>
<circle cx="326.5" cy="451.0" r="3.5" fill="#ff0000"/>
<circle cx="333.0" cy="450.0" r="3.5" fill="#ff0000"/>
<circle cx="242.2" cy="506.5" r="3.5" fill="#ff0000"/>
<circle cx="278.8" cy="492.0" r="3.5" fill="#ff0000"/>
<circle cx="326.9" cy="450.8" r="3.5" fill="#ff0000"/>
<circle cx="333.0" cy="448.0" r="3.5" fill="#ff0000"/>
<circle cx="340.2" cy="442.8" r="3.5" fill="#ff0000"/>
<circle cx="318.0" cy="458.8" r="3.5" fill="#ff0000"/>
<circle cx="311.0" cy="460.5" r="3.5" fill="#ff0000"/>
<polygon points="71.4,619.9 75.6,627.4 67.2,627.4" fill="#0000ff"/>
<polygon points="72.6,615.1 76.8,622.7 68.4,622.7" fill="#0000ff"/>
<polygon points="74.0,619.1 78.2,626.7 69.8,626.7" fill="#0000ff"/>
<polygon points="74.7,612.3 78.9,619.8 70.5,619.8" fill="#0000ff"/>
<polygon points="75.9,611.2 80.1,618.8 71.7,618.8" fill="#0000ff"/>
<polygon points="77.4,612.4 81.6,620.0 73.2,620.0" fill="#0000ff"/>
<polygon points="80.1,615.8 84.3,623.4 75.9,623.4" fill="#0000ff"/>
<polygon points="81.6,611.4 85.8,619.0 77.4,619.0" fill="#0000ff"/>
<polygon points="81.9,610.4 86.1,617.9 77.7,617.9" fill="#0000ff"/>
<polygon points="84.1,613.6 88.3,621.2 79.9,621.2" fill="#0000ff"/>
<polygon points="85.3,613.4 89.5,620.9 81.1,620.9" fill="#0000ff"/>
<polygon points="87.3,617.2 91.5,624.8 83.1,624.8" fill="#0000ff"/>
<polygon points="88.7,616.4 92.9,624.0 84.5,624.0" fill="#0000ff"/>
<polygon points="90.8,617.3 95.0,624.8 86.6,624.8" fill="#0000ff"/>
<polygon points="92.7,616.1 96.9,623.7 88.5,623.7" fill="#0000ff"/>
<polygon points="94.9,616.6 99.1,624.1 90.7,624.1" fill="#0000ff"/>
<polygon points="94.4,610.2 98.6,617.8 90.2,617.8" fill="#0000ff"/>
<polygon points="98.2,617.1 102.4,624.7 94.0,624.7" fill="#0000ff"/>
<polygon points="99.5,613.9 103.7,621.5 95.3,621.5" fill="#0000ff"/>
<polygon points="100.6,612.4 104.8,619.9 96.4,619.9" fill="#0000ff"/>
<polygon points="100.8,609.2 105.0,616.7 96.6,616.7" fill="#0000ff"/>
<polygon points="102.1,609.4 106.3,617.0 97.9,617.0" fill="#0000ff"/>
<polygon points="103.5,608.3 107.7,615.8 99.3,615.8" fill="#0000ff"/>
<polygon points="103.1,606.6 107.3,614.1 98.9,614.1" fill="#0000ff"/>
<polygon points="109.4,609.4 113.6,616.9 105.2,616.9" fill="#0000ff"/>
<polygon points="110.4,606.5 114.6,614.0 106.2,614.0" fill="#0000ff"/>
<polygon points="108.3,605.1 112.5,612.7 104.1,612.7" fill="#0000ff"/>
<polygon points="108.6,601.6 112.8,609.1 104.4,609.1" fill="#0000ff"/>
<polygon points="111.8,601.7 116.0,609.2 107.6,609.2" fill="#0000ff"/>
<polygon points="113.9,598.4 118.1,606.0 109.7,606.0" fill="#0000ff"/>
<polygon points="114.4,595.7 118.6,603.3 110.2,603.3" fill="#0000ff"/>
<polygon points="118.5,597.0 122.7,604.5 114.3,604.5" fill="#0000ff"/>
<polygon points="117.4,593.3 121.6,600.8 113.2,600.8" fill="#0000ff"/>
<polygon points="117.8,590.1 122.0,597.7 113.6,597.7" fill="#0000ff"/>
<polygon points="121.0,589.9 125.2,597.5 116.8,597.5" fill="#0000ff"/>
<polygon points="121.9,588.6 126.1,596.2 117.7,596.2" fill="#0000ff"/>
<polygon points="127.9,591.5 132.1,599.0 123.7,599.0" fill="#0000ff"/>
<polygon points="128.2,589.0 132.4,596.6 124.0,596.6" fill="#0000ff"/>
<polygon points="129.9,586.1 134.1,593.6 125.7,593.6" fill="#0000ff"/>
<polygon points="131.5,584.1 135.7,591.6 127.3,591.6" fill="#0000ff"/>
<polygon points="132.6,581.1 136.8,588.7 128.4,588.7" fill="#0000ff"/>
<polygon points="135.5,582.5 139.7,590.0 131.3,590.0" fill="#0000ff"/>
<polygon points="139.6,583.4 143.8,591.0 135.4,591.0" fill="#0000ff"/>
<polygon points="139.2,580.3 143.4,587.8 135.0,587.8" fill="#0000ff"/>
<polygon points="140.8,575.8 145.0,583.4 136.6,583.4" fill="#0000ff"/>
<polygon points="141.4,573.4 145.6,581.0 137.2,581.0" fill="#0000ff"/>
<polygon points="142.1,571.9 146.3,579.5 137.9,579.5" fill="#0000ff"/>
<polygon points="147.1,574.7 151.3,582.3 142.9,582.3" fill="#0000ff"/>
<polygon points="151.4,574.7 155.6,582.3 147.2,582.3" fill="#0000ff"/>
<polygon points="148.8,570.0 153.0,577.6 144.6,577.6" fill="#0000ff"/>
<polygon points="153.2,570.8 157.4,578.3 149.0,578.3" fill="#0000ff"/>
<polygon points="154.2,568.4 158.4,576.0 150.0,576.0" fill="#0000ff"/>
<polygon points="156.9,568.7 161.1,576.2 152.7,576.2" fill="#0000ff"/>
<polygon points="159.4,565.5 163.6,573.1 155.2,573.1" fill="#0000ff"/>
<polygon points="160.3,566.4 164.5,574.0 156.1,574.0" fill="#0000ff"/>
<polygon points="161.4,563.4 165.6,571.0 157.2,571.0" fill="#0000ff"/>
<polygon points="163.3,561.7 167.5,569.3 159.1,569.3" fill="#0000ff"/>
<polygon points="167.2,562.1 171.4,569.7 163.0,569.7" fill="#0000ff"/>
<polygon points="167.3,558.3 171.5,565.8 163.1,565.8" fill="#0000ff"/>
<polygon points="168.7,555.5 172.9,563.0 164.5,563.0" fill="#0000ff"/>
<polygon points="171.3,555.6 175.5,563.1 167.1,563.1" fill="#0000ff"/>
<polygon points="175.7,556.9 179.9,564.5 171.5,564.5" fill="#0000ff"/>
<polygon points="175.8,550.5 180.0,558.1 171.6,558.1" fill="#0000ff"/>
<polygon points="180.2,551.9 184.4,559.5 176.0,559.5" fill="#0000ff"/>
<polygon points="183.4,554.6 187.6,562.1 179.2,562.1" fill="#0000ff"/>
<polygon points="187.3,551.3 191.5,558.9 183.1,558.9" fill="#0000ff"/>
<polygon points="188.5,546.4 192.7,553.9 184.3,553.9" fill="#0000ff"/>
<polygon points="189.2,542.9 193.4,550.5 185.0,550.5" fill="#0000ff"/>
<polygon points="197.4,545.4 201.6,552.9 193.2,552.9" fill="#0000ff"/>
<polygon points="198.9,542.8 203.1,550.3 194.7,550.3" fill="#0000ff"/>
<polygon points="198.0,538.5 202.2,546.1 193.8,546.1" fill="#0000ff"/>
<polygon points="198.8,536.5 203.0,544.1 194.6,544.1" fill="#0000ff"/>
<polygon points="201.2,532.3 205.4,539.9 197.0,539.9" fill="#0000ff"/>
<polygon points="200.5,529.3 204.7,536.9 196.3,536.9" fill="#0000ff"/>
<polygon points="204.1,528.2 208.3,535.8 199.9,535.8" fill="#0000ff"/>
<polygon points="205.4,525.2 209.6,532.7 201.2,532.7" fill="#0000ff"/>
<polygon points="210.0,526.4 214.2,533.9 205.8,533.9" fill="#0000ff"/>
<polygon points="211.5,523.0 215.7,530.6 207.3,530.6" fill="#0000ff"/>
<polygon points="216.1,522.6 220.3,530.2 211.9,530.2" fill="#0000ff"/>
<polygon points="216.0,515.3 220.2,522.9 211.8,522.9" fill="#0000ff"/>
<polygon points="220.4,520.2 224.6,527.7 216.2,527.7" fill="#0000ff"/>
<polygon points="220.7,515.3 224.9,522.9 216.5,522.9" fill="#0000ff"/>
<polygon points="224.3,515.0 228.5,522.6 220.1,522.6" fill="#0000ff"/>
<polygon points="226.1,512.9 230.3,520.4 221.9,520.4" fill="#0000ff"/>
<polygon points="230.2,512.6 234.4,520.2 226.0,520.2" fill="#0000ff"/>
<polygon points="230.7,509.3 234.9,516.9 226.5,516.9" fill="#0000ff"/>
<polygon points="234.9,508.0 239.1,515.6 230.7,515.6" fill="#0000ff"/>
<polygon points="237.8,507.8 242.0,515.4 233.6,515.4" fill="#0000ff"/>
<polygon points="240.7,507.8 244.9,515.4 236.5,515.4" fill="#0000ff"/>
<polygon points="242.8,505.4 247.0,513.0 238.6,513.0" fill="#0000ff"/>
<polygon points="246.6,503.1 250.8,510.7 242.4,510.7" fill="#0000ff"/>
<polygon points="247.0,499.6 251.2,507.2 242.8,507.2" fill="#0000ff"/>
<polygon points="254.8,498.4 259.0,506.0 250.6,506.0" fill="#0000ff"/>
<polygon points="260.9,493.8 265.1,501.4 256.7,501.4" fill="#0000ff"/>
<polygon points="269.0,490.5 273.2,498.0 264.8,498.0" fill="#0000ff"/>
<polygon points="272.7,484.2 276.9,491.7 268.5,491.7" fill="#0000ff"/>
<polygon points="280.0,482.6 284.2,490.2 275.8,490.2" fill="#0000ff"/>
<polygon points="283.4,477.4 287.6,485.0 279.2,485.0" fill="#0000ff"/>
<polygon points="290.0,474.8 294.2,482.3 285.8,482.3" fill="#0000ff"/>
<polygon points="293.7,471.3 297.9,478.9 289.5,478.9" fill="#0000ff"/>
<polygon points="301.3,468.0 305.5,475.6 297.1,475.6" fill="#0000ff"/>
<polygon points="305.1,461.3 309.3,468.9 300.9,468.9" fill="#0000ff"/>
<polygon points="312.1,457.6 316.3,465.2 307.9,465.2" fill="#0000ff"/>
<polygon points="320.1,452.3 324.3,459.8 315.9,459.8" fill="#0000ff"/>
<polygon points="324.3,447.3 328.5,454.8 320.1,454.8" fill="#0000ff"/>
<polygon points="329.4,444.5 333.6,452.0 325.2,452.0" fill="#0000ff"/>
<polygon points="334.9,436.6 339.1,444.2 330.7,444.2" fill="#0000ff"/>
<polygon points="345.9,434.5 350.1,442.0 341.7,442.0" fill="#0000ff"/>
<polygon points="350.7,427.1 354.9,434.7 346.5,434.7" fill="#0000ff"/>
<polygon points="242.2,506.8 246.4,514.4 238.0,514.4" fill="#0000ff"/>
<polygon points="251.0,501.2 255.2,508.8 246.8,508.8" fill="#0000ff"/>
<polygon points="260.0,495.8 264.2,503.4 255.8,503.4" fill="#0000ff"/>
<polygon points="266.6,490.1 270.8,497.7 262.4,497.7" fill="#0000ff"/>
<polygon points="273.0,486.8 277.2,494.4 268.8,494.4" fill="#0000ff"/>
<polygon points="277.7,481.3 281.9,488.9 273.5,488.9" fill="#0000ff"/>
<polygon points="286.6,482.4 290.8,490.0 282.4,490.0" fill="#0000ff"/>
<polygon points="285.5,473.5 289.7,481.1 281.3,481.1" fill="#0000ff"/>
<polygon points="295.4,474.6 299.6,482.2 291.2,482.2" fill="#0000ff"/>
<polygon points="300.0,475.8 304.2,483.4 295.8,483.4" fill="#0000ff"/>
<polygon points="313.2,469.1 317.4,476.7 309.0,476.7" fill="#0000ff"/>
<polygon points="303.2,459.1 307.4,466.7 299.0,466.7" fill="#0000ff"/>
<polygon points="309.8,454.6 314.0,462.2 305.6,462.2" fill="#0000ff"/>
<polygon points="318.7,449.1 322.9,456.7 314.5,456.7" fill="#0000ff"/>
<polygon points="323.2,456.8 327.4,464.4 319.0,464.4" fill="#0000ff"/>
<polygon points="333.0,447.8 337.2,455.4 328.8,455.4" fill="#0000ff"/>
<polygon points="328.7,440.2 332.9,447.8 324.5,447.8" fill="#0000ff"/>
<polygon points="335.3,438.0 339.5,445.6 331.1,445.6" fill="#0000ff"/>
<polygon points="350.0,429.8 354.2,437.4 345.8,437.4" fill="#0000ff"/>
<polygon points="351.7,436.8 355.9,444.4 347.5,444.4" fill="#0000ff"/>
<polygon points="345.5,438.6 349.7,446.2 341.3,446.2" fill="#0000ff"/>
<polygon points="343.7,434.2 347.9,441.8 339.5,441.8" fill="#0000ff"/>
<polygon points="338.4,433.3 342.6,440.9 334.2,440.9" fill="#0000ff"/>
<polygon points="333.0,434.2 337.2,441.8 328.8,441.8" fill="#0000ff"/>
<polygon points="327.7,438.6 331.9,446.2 323.5,446.2" fill="#0000ff"/>
<polygon points="324.2,441.3 328.4,448.9 320.0,448.9" fill="#0000ff"/>
<polygon points="323.3,446.6 327.5,454.2 319.1,454.2" fill="#0000ff"/>
<polygon points="333.0,448.4 337.2,456.0 328.8,456.0" fill="#0000ff"/>
<polygon points="318.0,450.1 322.2,457.7 313.8,457.7" fill="#0000ff"/>
<polygon points="310.0,455.5 314.2,463.1 305.8,463.1" fill="#0000ff"/>
<polygon points="323.3,457.2 327.5,464.8 319.1,464.8" fill="#0000ff"/>
<polygon points="217.6,513.5 221.8,521.1 213.4,521.1" fill="#0000ff"/>
</g>
<line x1="70.50" y1="634.30" x2="70.50" y2="639.80" stroke="#111" stroke-width="1.4"/>
<text x="70.50" y="654.60" text-anchor="middle" font-size="14" font-family="Liberation Serif, serif" font-weight="bold">0</text>
<line x1="95.56" y1="634.30" x2="95.56" y2="637.80" stroke="#111" stroke-width="1.4"/>
<line x1="120.63" y1="634.30" x2="120.63" y2="639.80" stroke="#111" stroke-width="1.4"/>
<text x="120.63" y="654.60" text-anchor="middle" font-size="14" font-family="Liberation Serif, serif" font-weight="bold">5</text>
<line x1="145.69" y1="634.30" x2="145.69" y2="637.80" stroke="#111" stroke-width="1.4"/>
<line x1="170.76" y1="634.30" x2="170.76" y2="639.80" stroke="#111" stroke-width="1.4"/>
<text x="170.76" y="654.60" text-anchor="middle" font-size="14" font-family="Liberation Serif, serif" font-weight="bold">10</text>
<line x1="195.82" y1="634.30" x2="195.82" y2="637.80" stroke="#111" stroke-width="1.4"/>
<line x1="220.89" y1="634.30" x2="220.89" y2="639.80" stroke="#111" stroke-width="1.4"/>
<text x="220.89" y="654.60" text-anchor="middle" font-size="14" font-family="Liberation Serif, serif" font-weight="bold">15</text>
<line x1="245.95" y1="634.30" x2="245.95" y2="637.80" stroke="#111" stroke-width="1.4"/>
<line x1="271.01" y1="634.30" x2="271.01" y2="639.80" stroke="#111" stroke-width="1.4"/>
<text x="271.01" y="654.60" text-anchor="middle" font-size="14" font-family="Liberation Serif, serif" font-weight="bold">20</text>
<line x1="296.08" y1="634.30" x2="296.08" y2="637.80" stroke="#111" stroke-width="1.4"/>
<line x1="321.14" y1="634.30" x2="321.14" y2="639.80" stroke="#111" stroke-width="1.4"/>
<text x="321.14" y="654.60" text-anchor="middle" font-size="14" font-family="Liberation Serif, serif" font-weight="bold">25</text>
<line x1="346.21" y1="634.30" x2="346.21" y2="637.80" stroke="#111" stroke-width="1.4"/>
<line x1="371.27" y1="634.30" x2="371.27" y2="639.80" stroke="#111" stroke-width="1.4"/>
<text x="371.27" y="654.60" text-anchor="middle" font-size="14" font-family="Liberation Serif, serif" font-weight="bold">30</text>
<line x1="396.34" y1="634.30" x2="396.34" y2="637.80" stroke="#111" stroke-width="1.4"/>
<line x1="421.40" y1="634.30" x2="421.40" y2="639.80" stroke="#111" stroke-width="1.4"/>
<text x="421.40" y="654.60" text-anchor="middle" font-size="14" font-family="Liberation Serif, serif" font-weight="bold">35</text>
<line x1="65.00" y1="634.30" x2="70.50" y2="634.30" stroke="#000" stroke-width="1.5"/>
<text x="62.50" y="639.10" text-anchor="end" font-size="14" font-family="Liberation Serif, serif" font-weight="bold">0.0</text>
<line x1="67.00" y1="615.96" x2="70.50" y2="615.96" stroke="#000" stroke-width="1.5"/>
<line x1="65.00" y1="597.61" x2="70.50" y2="597.61" stroke="#000" stroke-width="1.5"/>
<text x="62.50" y="602.41" text-anchor="end" font-size="14" font-family="Liberation Serif, serif" font-weight="bold">0.2</text>
<line x1="67.00" y1="579.27" x2="70.50" y2="579.27" stroke="#000" stroke-width="1.5"/>
<line x1="65.00" y1="560.93" x2="70.50" y2="560.93" stroke="#000" stroke-width="1.5"/>
<text x="62.50" y="565.73" text-anchor="end" font-size="14" font-family="Liberation Serif, serif" font-weight="bold">0.4</text>
<line x1="67.00" y1="542.59" x2="70.50" y2="542.59" stroke="#000" stroke-width="1.5"/>
<line x1="65.00" y1="524.24" x2="70.50" y2="524.24" stroke="#000" stroke-width="1.5"/>
<text x="62.50" y="529.04" text-anchor="end" font-size="14" font-family="Liberation Serif, serif" font-weight="bold">0.6</text>
<line x1="67.00" y1="505.90" x2="70.50" y2="505.90" stroke="#000" stroke-width="1.5"/>
<line x1="65.00" y1="487.56" x2="70.50" y2="487.56" stroke="#000" stroke-width="1.5"/>
<text x="62.50" y="492.36" text-anchor="end" font-size="14" font-family="Liberation Serif, serif" font-weight="bold">0.8</text>
<line x1="67.00" y1="469.21" x2="70.50" y2="469.21" stroke="#000" stroke-width="1.5"/>
<line x1="65.00" y1="450.87" x2="70.50" y2="450.87" stroke="#000" stroke-width="1.5"/>
<text x="62.50" y="455.67" text-anchor="end" font-size="14" font-family="Liberation Serif, serif" font-weight="bold">1.0</text>
<line x1="67.00" y1="432.53" x2="70.50" y2="432.53" stroke="#000" stroke-width="1.5"/>
<line x1="65.00" y1="414.19" x2="70.50" y2="414.19" stroke="#000" stroke-width="1.5"/>
<text x="62.50" y="418.99" text-anchor="end" font-size="14" font-family="Liberation Serif, serif" font-weight="bold">1.2</text>
<line x1="67.00" y1="395.84" x2="70.50" y2="395.84" stroke="#000" stroke-width="1.5"/>
<line x1="65.00" y1="377.50" x2="70.50" y2="377.50" stroke="#000" stroke-width="1.5"/>
<text x="62.50" y="382.30" text-anchor="end" font-size="14" font-family="Liberation Serif, serif" font-weight="bold">1.4</text>
<line x1="70.50" y1="376.80" x2="70.50" y2="635.00" stroke="#2a2a2a" stroke-width="1.4"/>
<line x1="69.80" y1="377.50" x2="422.10" y2="377.50" stroke="#2a2a2a" stroke-width="1.4"/>
<line x1="421.40" y1="376.80" x2="421.40" y2="635.00" stroke="#000" stroke-width="1.5"/>
<line x1="69.80" y1="634.30" x2="422.10" y2="634.30" stroke="#000" stroke-width="1.5"/>
<text x="246.80" y="677.00" text-anchor="middle" font-size="18" font-family="Liberation Serif, serif" font-weight="bold">Pressure (KPa)</text>
<text transform="translate(35.60,516.20) rotate(-90)" text-anchor="middle" font-size="18.4" font-family="Liberation Serif, serif" font-weight="bold">Current (mA)</text>
<rect x="83.5" y="386.5" width="103" height="62.5" fill="#fff" stroke="#8a8a8a" stroke-width="1"/>
<rect x="99.0" y="396.9" width="5.9" height="5.9" fill="#000"/>
<text x="119.6" y="404.1" font-size="15.2" font-family="Liberation Serif, serif" font-weight="bold">1st_cycle</text>
<circle cx="101.8" cy="419.4" r="3.4" fill="#ff0000"/>
<text x="119.6" y="423.7" font-size="15.2" font-family="Liberation Serif, serif" font-weight="bold">2nd_cycle</text>
<polygon points="101.9,435.0 105.9,442.2 97.9,442.2" fill="#0000ff"/>
<text x="119.6" y="443.3" font-size="15.2" font-family="Liberation Serif, serif" font-weight="bold">3rd_cycle</text>
</g>
</svg></body></html>
